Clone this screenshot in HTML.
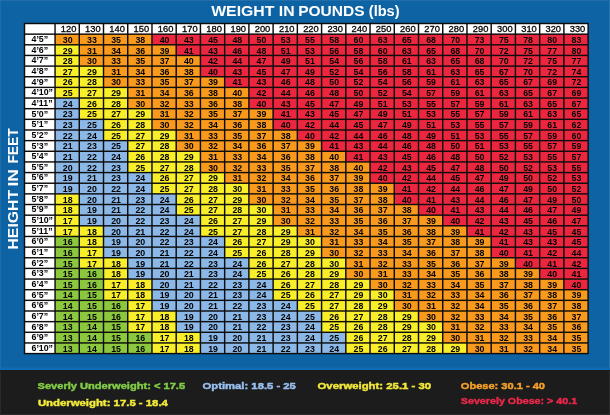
<!DOCTYPE html><html><head><meta charset="utf-8"><style>html,body{margin:0;padding:0;background:#0f64a3;width:610px;height:415px;overflow:hidden}svg{display:block}text{font-family:"Liberation Sans",sans-serif}</style></head><body>
<svg width="610" height="415" viewBox="0 0 610 415">
<defs><filter id="b" filterUnits="userSpaceOnUse" x="-10" y="-10" width="630" height="435"><feGaussianBlur stdDeviation="0.3"/></filter></defs>
<g filter="url(#b)">
<rect x="-10" y="-10" width="630" height="390" fill="#0f64a3"/>
<rect x="0" y="367.5" width="610" height="2.5" fill="#0f6db8"/>
<rect x="-10" y="370" width="630" height="55" fill="#1b1b1b"/>
<rect x="0" y="0" width="610" height="1" fill="#236fab" opacity="0.9"/>
<rect x="0" y="0" width="1" height="368" fill="#236fab" opacity="0.8"/>
<rect x="609" y="0" width="1" height="368" fill="#2a76b0" opacity="0.9"/>
<rect x="0" y="371" width="1" height="44" fill="#2a2a2a"/>
<rect x="609" y="371" width="1" height="44" fill="#2a2a2a"/>
<rect x="0" y="414" width="610" height="1" fill="#2a2a2a"/>
<text x="211.20" y="15.9" font-size="14" font-weight="bold" fill="#fff" textLength="63.20" lengthAdjust="spacingAndGlyphs">WEIGHT</text>
<text x="278.80" y="15.9" font-size="14" font-weight="bold" fill="#fff" textLength="15.80" lengthAdjust="spacingAndGlyphs">IN</text>
<text x="298.20" y="15.9" font-size="14" font-weight="bold" fill="#fff" textLength="66.40" lengthAdjust="spacingAndGlyphs">POUNDS</text>
<text x="368.80" y="15.9" font-size="14" font-weight="bold" fill="#fff" textLength="30.80" lengthAdjust="spacingAndGlyphs">(lbs)</text>
<text transform="translate(17.9,249.60) rotate(-90)" x="0" y="0" font-size="15.2" font-weight="bold" fill="#fff" textLength="59.80" lengthAdjust="spacingAndGlyphs">HEIGHT</text>
<text transform="translate(17.9,186.50) rotate(-90)" x="0" y="0" font-size="15.2" font-weight="bold" fill="#fff" textLength="17.40" lengthAdjust="spacingAndGlyphs">IN</text>
<text transform="translate(17.9,163.60) rotate(-90)" x="0" y="0" font-size="15.2" font-weight="bold" fill="#fff" textLength="35.20" lengthAdjust="spacingAndGlyphs">FEET</text>
<rect x="23.77" y="22.77" width="565.06" height="331.54" fill="#0d0d0d"/>
<rect x="25.23" y="24.23" width="29.10" height="9.20" fill="#ffffff"/>
<rect x="55.77" y="24.23" width="22.78" height="9.20" fill="#ffffff"/>
<rect x="80.00" y="24.23" width="22.78" height="9.20" fill="#ffffff"/>
<rect x="104.23" y="24.23" width="22.78" height="9.20" fill="#ffffff"/>
<rect x="128.47" y="24.23" width="22.78" height="9.20" fill="#ffffff"/>
<rect x="152.69" y="24.23" width="22.78" height="9.20" fill="#ffffff"/>
<rect x="176.92" y="24.23" width="22.78" height="9.20" fill="#ffffff"/>
<rect x="201.16" y="24.23" width="22.78" height="9.20" fill="#ffffff"/>
<rect x="225.39" y="24.23" width="22.78" height="9.20" fill="#ffffff"/>
<rect x="249.61" y="24.23" width="22.78" height="9.20" fill="#ffffff"/>
<rect x="273.85" y="24.23" width="22.78" height="9.20" fill="#ffffff"/>
<rect x="298.08" y="24.23" width="22.78" height="9.20" fill="#ffffff"/>
<rect x="322.31" y="24.23" width="22.78" height="9.20" fill="#ffffff"/>
<rect x="346.54" y="24.23" width="22.78" height="9.20" fill="#ffffff"/>
<rect x="370.77" y="24.23" width="22.78" height="9.20" fill="#ffffff"/>
<rect x="395.00" y="24.23" width="22.78" height="9.20" fill="#ffffff"/>
<rect x="419.23" y="24.23" width="22.78" height="9.20" fill="#ffffff"/>
<rect x="443.46" y="24.23" width="22.78" height="9.20" fill="#ffffff"/>
<rect x="467.69" y="24.23" width="22.78" height="9.20" fill="#ffffff"/>
<rect x="491.92" y="24.23" width="22.78" height="9.20" fill="#ffffff"/>
<rect x="516.14" y="24.23" width="22.78" height="9.20" fill="#ffffff"/>
<rect x="540.38" y="24.23" width="22.78" height="9.20" fill="#ffffff"/>
<rect x="564.61" y="24.23" width="22.78" height="9.20" fill="#ffffff"/>
<rect x="25.23" y="34.88" width="29.10" height="9.20" fill="#ffffff"/>
<rect x="55.77" y="34.88" width="22.78" height="9.20" fill="#f99a1f"/>
<rect x="80.00" y="34.88" width="22.78" height="9.20" fill="#f99a1f"/>
<rect x="104.23" y="34.88" width="22.78" height="9.20" fill="#f99a1f"/>
<rect x="128.47" y="34.88" width="22.78" height="9.20" fill="#f99a1f"/>
<rect x="152.69" y="34.88" width="22.78" height="9.20" fill="#ed283f"/>
<rect x="176.92" y="34.88" width="22.78" height="9.20" fill="#ed283f"/>
<rect x="201.16" y="34.88" width="22.78" height="9.20" fill="#ed283f"/>
<rect x="225.39" y="34.88" width="22.78" height="9.20" fill="#ed283f"/>
<rect x="249.61" y="34.88" width="22.78" height="9.20" fill="#ed283f"/>
<rect x="273.85" y="34.88" width="22.78" height="9.20" fill="#ed283f"/>
<rect x="298.08" y="34.88" width="22.78" height="9.20" fill="#ed283f"/>
<rect x="322.31" y="34.88" width="22.78" height="9.20" fill="#ed283f"/>
<rect x="346.54" y="34.88" width="22.78" height="9.20" fill="#ed283f"/>
<rect x="370.77" y="34.88" width="22.78" height="9.20" fill="#ed283f"/>
<rect x="395.00" y="34.88" width="22.78" height="9.20" fill="#ed283f"/>
<rect x="419.23" y="34.88" width="22.78" height="9.20" fill="#ed283f"/>
<rect x="443.46" y="34.88" width="22.78" height="9.20" fill="#ed283f"/>
<rect x="467.69" y="34.88" width="22.78" height="9.20" fill="#ed283f"/>
<rect x="491.92" y="34.88" width="22.78" height="9.20" fill="#ed283f"/>
<rect x="516.14" y="34.88" width="22.78" height="9.20" fill="#ed283f"/>
<rect x="540.38" y="34.88" width="22.78" height="9.20" fill="#ed283f"/>
<rect x="564.61" y="34.88" width="22.78" height="9.20" fill="#ed283f"/>
<rect x="25.23" y="45.52" width="29.10" height="9.20" fill="#ffffff"/>
<rect x="55.77" y="45.52" width="22.78" height="9.20" fill="#f9ee2a"/>
<rect x="80.00" y="45.52" width="22.78" height="9.20" fill="#f99a1f"/>
<rect x="104.23" y="45.52" width="22.78" height="9.20" fill="#f99a1f"/>
<rect x="128.47" y="45.52" width="22.78" height="9.20" fill="#f99a1f"/>
<rect x="152.69" y="45.52" width="22.78" height="9.20" fill="#f99a1f"/>
<rect x="176.92" y="45.52" width="22.78" height="9.20" fill="#ed283f"/>
<rect x="201.16" y="45.52" width="22.78" height="9.20" fill="#ed283f"/>
<rect x="225.39" y="45.52" width="22.78" height="9.20" fill="#ed283f"/>
<rect x="249.61" y="45.52" width="22.78" height="9.20" fill="#ed283f"/>
<rect x="273.85" y="45.52" width="22.78" height="9.20" fill="#ed283f"/>
<rect x="298.08" y="45.52" width="22.78" height="9.20" fill="#ed283f"/>
<rect x="322.31" y="45.52" width="22.78" height="9.20" fill="#ed283f"/>
<rect x="346.54" y="45.52" width="22.78" height="9.20" fill="#ed283f"/>
<rect x="370.77" y="45.52" width="22.78" height="9.20" fill="#ed283f"/>
<rect x="395.00" y="45.52" width="22.78" height="9.20" fill="#ed283f"/>
<rect x="419.23" y="45.52" width="22.78" height="9.20" fill="#ed283f"/>
<rect x="443.46" y="45.52" width="22.78" height="9.20" fill="#ed283f"/>
<rect x="467.69" y="45.52" width="22.78" height="9.20" fill="#ed283f"/>
<rect x="491.92" y="45.52" width="22.78" height="9.20" fill="#ed283f"/>
<rect x="516.14" y="45.52" width="22.78" height="9.20" fill="#ed283f"/>
<rect x="540.38" y="45.52" width="22.78" height="9.20" fill="#ed283f"/>
<rect x="564.61" y="45.52" width="22.78" height="9.20" fill="#ed283f"/>
<rect x="25.23" y="56.17" width="29.10" height="9.20" fill="#ffffff"/>
<rect x="55.77" y="56.17" width="22.78" height="9.20" fill="#f9ee2a"/>
<rect x="80.00" y="56.17" width="22.78" height="9.20" fill="#f99a1f"/>
<rect x="104.23" y="56.17" width="22.78" height="9.20" fill="#f99a1f"/>
<rect x="128.47" y="56.17" width="22.78" height="9.20" fill="#f99a1f"/>
<rect x="152.69" y="56.17" width="22.78" height="9.20" fill="#f99a1f"/>
<rect x="176.92" y="56.17" width="22.78" height="9.20" fill="#f99a1f"/>
<rect x="201.16" y="56.17" width="22.78" height="9.20" fill="#ed283f"/>
<rect x="225.39" y="56.17" width="22.78" height="9.20" fill="#ed283f"/>
<rect x="249.61" y="56.17" width="22.78" height="9.20" fill="#ed283f"/>
<rect x="273.85" y="56.17" width="22.78" height="9.20" fill="#ed283f"/>
<rect x="298.08" y="56.17" width="22.78" height="9.20" fill="#ed283f"/>
<rect x="322.31" y="56.17" width="22.78" height="9.20" fill="#ed283f"/>
<rect x="346.54" y="56.17" width="22.78" height="9.20" fill="#ed283f"/>
<rect x="370.77" y="56.17" width="22.78" height="9.20" fill="#ed283f"/>
<rect x="395.00" y="56.17" width="22.78" height="9.20" fill="#ed283f"/>
<rect x="419.23" y="56.17" width="22.78" height="9.20" fill="#ed283f"/>
<rect x="443.46" y="56.17" width="22.78" height="9.20" fill="#ed283f"/>
<rect x="467.69" y="56.17" width="22.78" height="9.20" fill="#ed283f"/>
<rect x="491.92" y="56.17" width="22.78" height="9.20" fill="#ed283f"/>
<rect x="516.14" y="56.17" width="22.78" height="9.20" fill="#ed283f"/>
<rect x="540.38" y="56.17" width="22.78" height="9.20" fill="#ed283f"/>
<rect x="564.61" y="56.17" width="22.78" height="9.20" fill="#ed283f"/>
<rect x="25.23" y="66.82" width="29.10" height="9.20" fill="#ffffff"/>
<rect x="55.77" y="66.82" width="22.78" height="9.20" fill="#f9ee2a"/>
<rect x="80.00" y="66.82" width="22.78" height="9.20" fill="#f9ee2a"/>
<rect x="104.23" y="66.82" width="22.78" height="9.20" fill="#f99a1f"/>
<rect x="128.47" y="66.82" width="22.78" height="9.20" fill="#f99a1f"/>
<rect x="152.69" y="66.82" width="22.78" height="9.20" fill="#f99a1f"/>
<rect x="176.92" y="66.82" width="22.78" height="9.20" fill="#f99a1f"/>
<rect x="201.16" y="66.82" width="22.78" height="9.20" fill="#ed283f"/>
<rect x="225.39" y="66.82" width="22.78" height="9.20" fill="#ed283f"/>
<rect x="249.61" y="66.82" width="22.78" height="9.20" fill="#ed283f"/>
<rect x="273.85" y="66.82" width="22.78" height="9.20" fill="#ed283f"/>
<rect x="298.08" y="66.82" width="22.78" height="9.20" fill="#ed283f"/>
<rect x="322.31" y="66.82" width="22.78" height="9.20" fill="#ed283f"/>
<rect x="346.54" y="66.82" width="22.78" height="9.20" fill="#ed283f"/>
<rect x="370.77" y="66.82" width="22.78" height="9.20" fill="#ed283f"/>
<rect x="395.00" y="66.82" width="22.78" height="9.20" fill="#ed283f"/>
<rect x="419.23" y="66.82" width="22.78" height="9.20" fill="#ed283f"/>
<rect x="443.46" y="66.82" width="22.78" height="9.20" fill="#ed283f"/>
<rect x="467.69" y="66.82" width="22.78" height="9.20" fill="#ed283f"/>
<rect x="491.92" y="66.82" width="22.78" height="9.20" fill="#ed283f"/>
<rect x="516.14" y="66.82" width="22.78" height="9.20" fill="#ed283f"/>
<rect x="540.38" y="66.82" width="22.78" height="9.20" fill="#ed283f"/>
<rect x="564.61" y="66.82" width="22.78" height="9.20" fill="#ed283f"/>
<rect x="25.23" y="77.47" width="29.10" height="9.20" fill="#ffffff"/>
<rect x="55.77" y="77.47" width="22.78" height="9.20" fill="#f9ee2a"/>
<rect x="80.00" y="77.47" width="22.78" height="9.20" fill="#f9ee2a"/>
<rect x="104.23" y="77.47" width="22.78" height="9.20" fill="#f99a1f"/>
<rect x="128.47" y="77.47" width="22.78" height="9.20" fill="#f99a1f"/>
<rect x="152.69" y="77.47" width="22.78" height="9.20" fill="#f99a1f"/>
<rect x="176.92" y="77.47" width="22.78" height="9.20" fill="#f99a1f"/>
<rect x="201.16" y="77.47" width="22.78" height="9.20" fill="#f99a1f"/>
<rect x="225.39" y="77.47" width="22.78" height="9.20" fill="#ed283f"/>
<rect x="249.61" y="77.47" width="22.78" height="9.20" fill="#ed283f"/>
<rect x="273.85" y="77.47" width="22.78" height="9.20" fill="#ed283f"/>
<rect x="298.08" y="77.47" width="22.78" height="9.20" fill="#ed283f"/>
<rect x="322.31" y="77.47" width="22.78" height="9.20" fill="#ed283f"/>
<rect x="346.54" y="77.47" width="22.78" height="9.20" fill="#ed283f"/>
<rect x="370.77" y="77.47" width="22.78" height="9.20" fill="#ed283f"/>
<rect x="395.00" y="77.47" width="22.78" height="9.20" fill="#ed283f"/>
<rect x="419.23" y="77.47" width="22.78" height="9.20" fill="#ed283f"/>
<rect x="443.46" y="77.47" width="22.78" height="9.20" fill="#ed283f"/>
<rect x="467.69" y="77.47" width="22.78" height="9.20" fill="#ed283f"/>
<rect x="491.92" y="77.47" width="22.78" height="9.20" fill="#ed283f"/>
<rect x="516.14" y="77.47" width="22.78" height="9.20" fill="#ed283f"/>
<rect x="540.38" y="77.47" width="22.78" height="9.20" fill="#ed283f"/>
<rect x="564.61" y="77.47" width="22.78" height="9.20" fill="#ed283f"/>
<rect x="25.23" y="88.11" width="29.10" height="9.20" fill="#ffffff"/>
<rect x="55.77" y="88.11" width="22.78" height="9.20" fill="#f9ee2a"/>
<rect x="80.00" y="88.11" width="22.78" height="9.20" fill="#f9ee2a"/>
<rect x="104.23" y="88.11" width="22.78" height="9.20" fill="#f9ee2a"/>
<rect x="128.47" y="88.11" width="22.78" height="9.20" fill="#f99a1f"/>
<rect x="152.69" y="88.11" width="22.78" height="9.20" fill="#f99a1f"/>
<rect x="176.92" y="88.11" width="22.78" height="9.20" fill="#f99a1f"/>
<rect x="201.16" y="88.11" width="22.78" height="9.20" fill="#f99a1f"/>
<rect x="225.39" y="88.11" width="22.78" height="9.20" fill="#f99a1f"/>
<rect x="249.61" y="88.11" width="22.78" height="9.20" fill="#ed283f"/>
<rect x="273.85" y="88.11" width="22.78" height="9.20" fill="#ed283f"/>
<rect x="298.08" y="88.11" width="22.78" height="9.20" fill="#ed283f"/>
<rect x="322.31" y="88.11" width="22.78" height="9.20" fill="#ed283f"/>
<rect x="346.54" y="88.11" width="22.78" height="9.20" fill="#ed283f"/>
<rect x="370.77" y="88.11" width="22.78" height="9.20" fill="#ed283f"/>
<rect x="395.00" y="88.11" width="22.78" height="9.20" fill="#ed283f"/>
<rect x="419.23" y="88.11" width="22.78" height="9.20" fill="#ed283f"/>
<rect x="443.46" y="88.11" width="22.78" height="9.20" fill="#ed283f"/>
<rect x="467.69" y="88.11" width="22.78" height="9.20" fill="#ed283f"/>
<rect x="491.92" y="88.11" width="22.78" height="9.20" fill="#ed283f"/>
<rect x="516.14" y="88.11" width="22.78" height="9.20" fill="#ed283f"/>
<rect x="540.38" y="88.11" width="22.78" height="9.20" fill="#ed283f"/>
<rect x="564.61" y="88.11" width="22.78" height="9.20" fill="#ed283f"/>
<rect x="25.23" y="98.76" width="29.10" height="9.20" fill="#ffffff"/>
<rect x="55.77" y="98.76" width="22.78" height="9.20" fill="#8cb8e8"/>
<rect x="80.00" y="98.76" width="22.78" height="9.20" fill="#f9ee2a"/>
<rect x="104.23" y="98.76" width="22.78" height="9.20" fill="#f9ee2a"/>
<rect x="128.47" y="98.76" width="22.78" height="9.20" fill="#f99a1f"/>
<rect x="152.69" y="98.76" width="22.78" height="9.20" fill="#f99a1f"/>
<rect x="176.92" y="98.76" width="22.78" height="9.20" fill="#f99a1f"/>
<rect x="201.16" y="98.76" width="22.78" height="9.20" fill="#f99a1f"/>
<rect x="225.39" y="98.76" width="22.78" height="9.20" fill="#f99a1f"/>
<rect x="249.61" y="98.76" width="22.78" height="9.20" fill="#ed283f"/>
<rect x="273.85" y="98.76" width="22.78" height="9.20" fill="#ed283f"/>
<rect x="298.08" y="98.76" width="22.78" height="9.20" fill="#ed283f"/>
<rect x="322.31" y="98.76" width="22.78" height="9.20" fill="#ed283f"/>
<rect x="346.54" y="98.76" width="22.78" height="9.20" fill="#ed283f"/>
<rect x="370.77" y="98.76" width="22.78" height="9.20" fill="#ed283f"/>
<rect x="395.00" y="98.76" width="22.78" height="9.20" fill="#ed283f"/>
<rect x="419.23" y="98.76" width="22.78" height="9.20" fill="#ed283f"/>
<rect x="443.46" y="98.76" width="22.78" height="9.20" fill="#ed283f"/>
<rect x="467.69" y="98.76" width="22.78" height="9.20" fill="#ed283f"/>
<rect x="491.92" y="98.76" width="22.78" height="9.20" fill="#ed283f"/>
<rect x="516.14" y="98.76" width="22.78" height="9.20" fill="#ed283f"/>
<rect x="540.38" y="98.76" width="22.78" height="9.20" fill="#ed283f"/>
<rect x="564.61" y="98.76" width="22.78" height="9.20" fill="#ed283f"/>
<rect x="25.23" y="109.41" width="29.10" height="9.20" fill="#ffffff"/>
<rect x="55.77" y="109.41" width="22.78" height="9.20" fill="#8cb8e8"/>
<rect x="80.00" y="109.41" width="22.78" height="9.20" fill="#f9ee2a"/>
<rect x="104.23" y="109.41" width="22.78" height="9.20" fill="#f9ee2a"/>
<rect x="128.47" y="109.41" width="22.78" height="9.20" fill="#f9ee2a"/>
<rect x="152.69" y="109.41" width="22.78" height="9.20" fill="#f99a1f"/>
<rect x="176.92" y="109.41" width="22.78" height="9.20" fill="#f99a1f"/>
<rect x="201.16" y="109.41" width="22.78" height="9.20" fill="#f99a1f"/>
<rect x="225.39" y="109.41" width="22.78" height="9.20" fill="#f99a1f"/>
<rect x="249.61" y="109.41" width="22.78" height="9.20" fill="#f99a1f"/>
<rect x="273.85" y="109.41" width="22.78" height="9.20" fill="#ed283f"/>
<rect x="298.08" y="109.41" width="22.78" height="9.20" fill="#ed283f"/>
<rect x="322.31" y="109.41" width="22.78" height="9.20" fill="#ed283f"/>
<rect x="346.54" y="109.41" width="22.78" height="9.20" fill="#ed283f"/>
<rect x="370.77" y="109.41" width="22.78" height="9.20" fill="#ed283f"/>
<rect x="395.00" y="109.41" width="22.78" height="9.20" fill="#ed283f"/>
<rect x="419.23" y="109.41" width="22.78" height="9.20" fill="#ed283f"/>
<rect x="443.46" y="109.41" width="22.78" height="9.20" fill="#ed283f"/>
<rect x="467.69" y="109.41" width="22.78" height="9.20" fill="#ed283f"/>
<rect x="491.92" y="109.41" width="22.78" height="9.20" fill="#ed283f"/>
<rect x="516.14" y="109.41" width="22.78" height="9.20" fill="#ed283f"/>
<rect x="540.38" y="109.41" width="22.78" height="9.20" fill="#ed283f"/>
<rect x="564.61" y="109.41" width="22.78" height="9.20" fill="#ed283f"/>
<rect x="25.23" y="120.06" width="29.10" height="9.20" fill="#ffffff"/>
<rect x="55.77" y="120.06" width="22.78" height="9.20" fill="#8cb8e8"/>
<rect x="80.00" y="120.06" width="22.78" height="9.20" fill="#8cb8e8"/>
<rect x="104.23" y="120.06" width="22.78" height="9.20" fill="#f9ee2a"/>
<rect x="128.47" y="120.06" width="22.78" height="9.20" fill="#f9ee2a"/>
<rect x="152.69" y="120.06" width="22.78" height="9.20" fill="#f99a1f"/>
<rect x="176.92" y="120.06" width="22.78" height="9.20" fill="#f99a1f"/>
<rect x="201.16" y="120.06" width="22.78" height="9.20" fill="#f99a1f"/>
<rect x="225.39" y="120.06" width="22.78" height="9.20" fill="#f99a1f"/>
<rect x="249.61" y="120.06" width="22.78" height="9.20" fill="#f99a1f"/>
<rect x="273.85" y="120.06" width="22.78" height="9.20" fill="#ed283f"/>
<rect x="298.08" y="120.06" width="22.78" height="9.20" fill="#ed283f"/>
<rect x="322.31" y="120.06" width="22.78" height="9.20" fill="#ed283f"/>
<rect x="346.54" y="120.06" width="22.78" height="9.20" fill="#ed283f"/>
<rect x="370.77" y="120.06" width="22.78" height="9.20" fill="#ed283f"/>
<rect x="395.00" y="120.06" width="22.78" height="9.20" fill="#ed283f"/>
<rect x="419.23" y="120.06" width="22.78" height="9.20" fill="#ed283f"/>
<rect x="443.46" y="120.06" width="22.78" height="9.20" fill="#ed283f"/>
<rect x="467.69" y="120.06" width="22.78" height="9.20" fill="#ed283f"/>
<rect x="491.92" y="120.06" width="22.78" height="9.20" fill="#ed283f"/>
<rect x="516.14" y="120.06" width="22.78" height="9.20" fill="#ed283f"/>
<rect x="540.38" y="120.06" width="22.78" height="9.20" fill="#ed283f"/>
<rect x="564.61" y="120.06" width="22.78" height="9.20" fill="#ed283f"/>
<rect x="25.23" y="130.71" width="29.10" height="9.20" fill="#ffffff"/>
<rect x="55.77" y="130.71" width="22.78" height="9.20" fill="#8cb8e8"/>
<rect x="80.00" y="130.71" width="22.78" height="9.20" fill="#8cb8e8"/>
<rect x="104.23" y="130.71" width="22.78" height="9.20" fill="#f9ee2a"/>
<rect x="128.47" y="130.71" width="22.78" height="9.20" fill="#f9ee2a"/>
<rect x="152.69" y="130.71" width="22.78" height="9.20" fill="#f9ee2a"/>
<rect x="176.92" y="130.71" width="22.78" height="9.20" fill="#f99a1f"/>
<rect x="201.16" y="130.71" width="22.78" height="9.20" fill="#f99a1f"/>
<rect x="225.39" y="130.71" width="22.78" height="9.20" fill="#f99a1f"/>
<rect x="249.61" y="130.71" width="22.78" height="9.20" fill="#f99a1f"/>
<rect x="273.85" y="130.71" width="22.78" height="9.20" fill="#f99a1f"/>
<rect x="298.08" y="130.71" width="22.78" height="9.20" fill="#ed283f"/>
<rect x="322.31" y="130.71" width="22.78" height="9.20" fill="#ed283f"/>
<rect x="346.54" y="130.71" width="22.78" height="9.20" fill="#ed283f"/>
<rect x="370.77" y="130.71" width="22.78" height="9.20" fill="#ed283f"/>
<rect x="395.00" y="130.71" width="22.78" height="9.20" fill="#ed283f"/>
<rect x="419.23" y="130.71" width="22.78" height="9.20" fill="#ed283f"/>
<rect x="443.46" y="130.71" width="22.78" height="9.20" fill="#ed283f"/>
<rect x="467.69" y="130.71" width="22.78" height="9.20" fill="#ed283f"/>
<rect x="491.92" y="130.71" width="22.78" height="9.20" fill="#ed283f"/>
<rect x="516.14" y="130.71" width="22.78" height="9.20" fill="#ed283f"/>
<rect x="540.38" y="130.71" width="22.78" height="9.20" fill="#ed283f"/>
<rect x="564.61" y="130.71" width="22.78" height="9.20" fill="#ed283f"/>
<rect x="25.23" y="141.35" width="29.10" height="9.20" fill="#ffffff"/>
<rect x="55.77" y="141.35" width="22.78" height="9.20" fill="#8cb8e8"/>
<rect x="80.00" y="141.35" width="22.78" height="9.20" fill="#8cb8e8"/>
<rect x="104.23" y="141.35" width="22.78" height="9.20" fill="#8cb8e8"/>
<rect x="128.47" y="141.35" width="22.78" height="9.20" fill="#f9ee2a"/>
<rect x="152.69" y="141.35" width="22.78" height="9.20" fill="#f9ee2a"/>
<rect x="176.92" y="141.35" width="22.78" height="9.20" fill="#f99a1f"/>
<rect x="201.16" y="141.35" width="22.78" height="9.20" fill="#f99a1f"/>
<rect x="225.39" y="141.35" width="22.78" height="9.20" fill="#f99a1f"/>
<rect x="249.61" y="141.35" width="22.78" height="9.20" fill="#f99a1f"/>
<rect x="273.85" y="141.35" width="22.78" height="9.20" fill="#f99a1f"/>
<rect x="298.08" y="141.35" width="22.78" height="9.20" fill="#f99a1f"/>
<rect x="322.31" y="141.35" width="22.78" height="9.20" fill="#ed283f"/>
<rect x="346.54" y="141.35" width="22.78" height="9.20" fill="#ed283f"/>
<rect x="370.77" y="141.35" width="22.78" height="9.20" fill="#ed283f"/>
<rect x="395.00" y="141.35" width="22.78" height="9.20" fill="#ed283f"/>
<rect x="419.23" y="141.35" width="22.78" height="9.20" fill="#ed283f"/>
<rect x="443.46" y="141.35" width="22.78" height="9.20" fill="#ed283f"/>
<rect x="467.69" y="141.35" width="22.78" height="9.20" fill="#ed283f"/>
<rect x="491.92" y="141.35" width="22.78" height="9.20" fill="#ed283f"/>
<rect x="516.14" y="141.35" width="22.78" height="9.20" fill="#ed283f"/>
<rect x="540.38" y="141.35" width="22.78" height="9.20" fill="#ed283f"/>
<rect x="564.61" y="141.35" width="22.78" height="9.20" fill="#ed283f"/>
<rect x="25.23" y="152.00" width="29.10" height="9.20" fill="#ffffff"/>
<rect x="55.77" y="152.00" width="22.78" height="9.20" fill="#8cb8e8"/>
<rect x="80.00" y="152.00" width="22.78" height="9.20" fill="#8cb8e8"/>
<rect x="104.23" y="152.00" width="22.78" height="9.20" fill="#8cb8e8"/>
<rect x="128.47" y="152.00" width="22.78" height="9.20" fill="#f9ee2a"/>
<rect x="152.69" y="152.00" width="22.78" height="9.20" fill="#f9ee2a"/>
<rect x="176.92" y="152.00" width="22.78" height="9.20" fill="#f9ee2a"/>
<rect x="201.16" y="152.00" width="22.78" height="9.20" fill="#f99a1f"/>
<rect x="225.39" y="152.00" width="22.78" height="9.20" fill="#f99a1f"/>
<rect x="249.61" y="152.00" width="22.78" height="9.20" fill="#f99a1f"/>
<rect x="273.85" y="152.00" width="22.78" height="9.20" fill="#f99a1f"/>
<rect x="298.08" y="152.00" width="22.78" height="9.20" fill="#f99a1f"/>
<rect x="322.31" y="152.00" width="22.78" height="9.20" fill="#f99a1f"/>
<rect x="346.54" y="152.00" width="22.78" height="9.20" fill="#ed283f"/>
<rect x="370.77" y="152.00" width="22.78" height="9.20" fill="#ed283f"/>
<rect x="395.00" y="152.00" width="22.78" height="9.20" fill="#ed283f"/>
<rect x="419.23" y="152.00" width="22.78" height="9.20" fill="#ed283f"/>
<rect x="443.46" y="152.00" width="22.78" height="9.20" fill="#ed283f"/>
<rect x="467.69" y="152.00" width="22.78" height="9.20" fill="#ed283f"/>
<rect x="491.92" y="152.00" width="22.78" height="9.20" fill="#ed283f"/>
<rect x="516.14" y="152.00" width="22.78" height="9.20" fill="#ed283f"/>
<rect x="540.38" y="152.00" width="22.78" height="9.20" fill="#ed283f"/>
<rect x="564.61" y="152.00" width="22.78" height="9.20" fill="#ed283f"/>
<rect x="25.23" y="162.65" width="29.10" height="9.20" fill="#ffffff"/>
<rect x="55.77" y="162.65" width="22.78" height="9.20" fill="#8cb8e8"/>
<rect x="80.00" y="162.65" width="22.78" height="9.20" fill="#8cb8e8"/>
<rect x="104.23" y="162.65" width="22.78" height="9.20" fill="#8cb8e8"/>
<rect x="128.47" y="162.65" width="22.78" height="9.20" fill="#f9ee2a"/>
<rect x="152.69" y="162.65" width="22.78" height="9.20" fill="#f9ee2a"/>
<rect x="176.92" y="162.65" width="22.78" height="9.20" fill="#f9ee2a"/>
<rect x="201.16" y="162.65" width="22.78" height="9.20" fill="#f99a1f"/>
<rect x="225.39" y="162.65" width="22.78" height="9.20" fill="#f99a1f"/>
<rect x="249.61" y="162.65" width="22.78" height="9.20" fill="#f99a1f"/>
<rect x="273.85" y="162.65" width="22.78" height="9.20" fill="#f99a1f"/>
<rect x="298.08" y="162.65" width="22.78" height="9.20" fill="#f99a1f"/>
<rect x="322.31" y="162.65" width="22.78" height="9.20" fill="#f99a1f"/>
<rect x="346.54" y="162.65" width="22.78" height="9.20" fill="#f99a1f"/>
<rect x="370.77" y="162.65" width="22.78" height="9.20" fill="#ed283f"/>
<rect x="395.00" y="162.65" width="22.78" height="9.20" fill="#ed283f"/>
<rect x="419.23" y="162.65" width="22.78" height="9.20" fill="#ed283f"/>
<rect x="443.46" y="162.65" width="22.78" height="9.20" fill="#ed283f"/>
<rect x="467.69" y="162.65" width="22.78" height="9.20" fill="#ed283f"/>
<rect x="491.92" y="162.65" width="22.78" height="9.20" fill="#ed283f"/>
<rect x="516.14" y="162.65" width="22.78" height="9.20" fill="#ed283f"/>
<rect x="540.38" y="162.65" width="22.78" height="9.20" fill="#ed283f"/>
<rect x="564.61" y="162.65" width="22.78" height="9.20" fill="#ed283f"/>
<rect x="25.23" y="173.30" width="29.10" height="9.20" fill="#ffffff"/>
<rect x="55.77" y="173.30" width="22.78" height="9.20" fill="#8cb8e8"/>
<rect x="80.00" y="173.30" width="22.78" height="9.20" fill="#8cb8e8"/>
<rect x="104.23" y="173.30" width="22.78" height="9.20" fill="#8cb8e8"/>
<rect x="128.47" y="173.30" width="22.78" height="9.20" fill="#8cb8e8"/>
<rect x="152.69" y="173.30" width="22.78" height="9.20" fill="#f9ee2a"/>
<rect x="176.92" y="173.30" width="22.78" height="9.20" fill="#f9ee2a"/>
<rect x="201.16" y="173.30" width="22.78" height="9.20" fill="#f9ee2a"/>
<rect x="225.39" y="173.30" width="22.78" height="9.20" fill="#f99a1f"/>
<rect x="249.61" y="173.30" width="22.78" height="9.20" fill="#f99a1f"/>
<rect x="273.85" y="173.30" width="22.78" height="9.20" fill="#f99a1f"/>
<rect x="298.08" y="173.30" width="22.78" height="9.20" fill="#f99a1f"/>
<rect x="322.31" y="173.30" width="22.78" height="9.20" fill="#f99a1f"/>
<rect x="346.54" y="173.30" width="22.78" height="9.20" fill="#f99a1f"/>
<rect x="370.77" y="173.30" width="22.78" height="9.20" fill="#ed283f"/>
<rect x="395.00" y="173.30" width="22.78" height="9.20" fill="#ed283f"/>
<rect x="419.23" y="173.30" width="22.78" height="9.20" fill="#ed283f"/>
<rect x="443.46" y="173.30" width="22.78" height="9.20" fill="#ed283f"/>
<rect x="467.69" y="173.30" width="22.78" height="9.20" fill="#ed283f"/>
<rect x="491.92" y="173.30" width="22.78" height="9.20" fill="#ed283f"/>
<rect x="516.14" y="173.30" width="22.78" height="9.20" fill="#ed283f"/>
<rect x="540.38" y="173.30" width="22.78" height="9.20" fill="#ed283f"/>
<rect x="564.61" y="173.30" width="22.78" height="9.20" fill="#ed283f"/>
<rect x="25.23" y="183.95" width="29.10" height="9.20" fill="#ffffff"/>
<rect x="55.77" y="183.95" width="22.78" height="9.20" fill="#8cb8e8"/>
<rect x="80.00" y="183.95" width="22.78" height="9.20" fill="#8cb8e8"/>
<rect x="104.23" y="183.95" width="22.78" height="9.20" fill="#8cb8e8"/>
<rect x="128.47" y="183.95" width="22.78" height="9.20" fill="#8cb8e8"/>
<rect x="152.69" y="183.95" width="22.78" height="9.20" fill="#f9ee2a"/>
<rect x="176.92" y="183.95" width="22.78" height="9.20" fill="#f9ee2a"/>
<rect x="201.16" y="183.95" width="22.78" height="9.20" fill="#f9ee2a"/>
<rect x="225.39" y="183.95" width="22.78" height="9.20" fill="#f9ee2a"/>
<rect x="249.61" y="183.95" width="22.78" height="9.20" fill="#f99a1f"/>
<rect x="273.85" y="183.95" width="22.78" height="9.20" fill="#f99a1f"/>
<rect x="298.08" y="183.95" width="22.78" height="9.20" fill="#f99a1f"/>
<rect x="322.31" y="183.95" width="22.78" height="9.20" fill="#f99a1f"/>
<rect x="346.54" y="183.95" width="22.78" height="9.20" fill="#f99a1f"/>
<rect x="370.77" y="183.95" width="22.78" height="9.20" fill="#f99a1f"/>
<rect x="395.00" y="183.95" width="22.78" height="9.20" fill="#ed283f"/>
<rect x="419.23" y="183.95" width="22.78" height="9.20" fill="#ed283f"/>
<rect x="443.46" y="183.95" width="22.78" height="9.20" fill="#ed283f"/>
<rect x="467.69" y="183.95" width="22.78" height="9.20" fill="#ed283f"/>
<rect x="491.92" y="183.95" width="22.78" height="9.20" fill="#ed283f"/>
<rect x="516.14" y="183.95" width="22.78" height="9.20" fill="#ed283f"/>
<rect x="540.38" y="183.95" width="22.78" height="9.20" fill="#ed283f"/>
<rect x="564.61" y="183.95" width="22.78" height="9.20" fill="#ed283f"/>
<rect x="25.23" y="194.59" width="29.10" height="9.20" fill="#ffffff"/>
<rect x="55.77" y="194.59" width="22.78" height="9.20" fill="#f9ee2a"/>
<rect x="80.00" y="194.59" width="22.78" height="9.20" fill="#8cb8e8"/>
<rect x="104.23" y="194.59" width="22.78" height="9.20" fill="#8cb8e8"/>
<rect x="128.47" y="194.59" width="22.78" height="9.20" fill="#8cb8e8"/>
<rect x="152.69" y="194.59" width="22.78" height="9.20" fill="#8cb8e8"/>
<rect x="176.92" y="194.59" width="22.78" height="9.20" fill="#f9ee2a"/>
<rect x="201.16" y="194.59" width="22.78" height="9.20" fill="#f9ee2a"/>
<rect x="225.39" y="194.59" width="22.78" height="9.20" fill="#f9ee2a"/>
<rect x="249.61" y="194.59" width="22.78" height="9.20" fill="#f99a1f"/>
<rect x="273.85" y="194.59" width="22.78" height="9.20" fill="#f99a1f"/>
<rect x="298.08" y="194.59" width="22.78" height="9.20" fill="#f99a1f"/>
<rect x="322.31" y="194.59" width="22.78" height="9.20" fill="#f99a1f"/>
<rect x="346.54" y="194.59" width="22.78" height="9.20" fill="#f99a1f"/>
<rect x="370.77" y="194.59" width="22.78" height="9.20" fill="#f99a1f"/>
<rect x="395.00" y="194.59" width="22.78" height="9.20" fill="#ed283f"/>
<rect x="419.23" y="194.59" width="22.78" height="9.20" fill="#ed283f"/>
<rect x="443.46" y="194.59" width="22.78" height="9.20" fill="#ed283f"/>
<rect x="467.69" y="194.59" width="22.78" height="9.20" fill="#ed283f"/>
<rect x="491.92" y="194.59" width="22.78" height="9.20" fill="#ed283f"/>
<rect x="516.14" y="194.59" width="22.78" height="9.20" fill="#ed283f"/>
<rect x="540.38" y="194.59" width="22.78" height="9.20" fill="#ed283f"/>
<rect x="564.61" y="194.59" width="22.78" height="9.20" fill="#ed283f"/>
<rect x="25.23" y="205.24" width="29.10" height="9.20" fill="#ffffff"/>
<rect x="55.77" y="205.24" width="22.78" height="9.20" fill="#f9ee2a"/>
<rect x="80.00" y="205.24" width="22.78" height="9.20" fill="#8cb8e8"/>
<rect x="104.23" y="205.24" width="22.78" height="9.20" fill="#8cb8e8"/>
<rect x="128.47" y="205.24" width="22.78" height="9.20" fill="#8cb8e8"/>
<rect x="152.69" y="205.24" width="22.78" height="9.20" fill="#8cb8e8"/>
<rect x="176.92" y="205.24" width="22.78" height="9.20" fill="#f9ee2a"/>
<rect x="201.16" y="205.24" width="22.78" height="9.20" fill="#f9ee2a"/>
<rect x="225.39" y="205.24" width="22.78" height="9.20" fill="#f9ee2a"/>
<rect x="249.61" y="205.24" width="22.78" height="9.20" fill="#f9ee2a"/>
<rect x="273.85" y="205.24" width="22.78" height="9.20" fill="#f99a1f"/>
<rect x="298.08" y="205.24" width="22.78" height="9.20" fill="#f99a1f"/>
<rect x="322.31" y="205.24" width="22.78" height="9.20" fill="#f99a1f"/>
<rect x="346.54" y="205.24" width="22.78" height="9.20" fill="#f99a1f"/>
<rect x="370.77" y="205.24" width="22.78" height="9.20" fill="#f99a1f"/>
<rect x="395.00" y="205.24" width="22.78" height="9.20" fill="#f99a1f"/>
<rect x="419.23" y="205.24" width="22.78" height="9.20" fill="#ed283f"/>
<rect x="443.46" y="205.24" width="22.78" height="9.20" fill="#ed283f"/>
<rect x="467.69" y="205.24" width="22.78" height="9.20" fill="#ed283f"/>
<rect x="491.92" y="205.24" width="22.78" height="9.20" fill="#ed283f"/>
<rect x="516.14" y="205.24" width="22.78" height="9.20" fill="#ed283f"/>
<rect x="540.38" y="205.24" width="22.78" height="9.20" fill="#ed283f"/>
<rect x="564.61" y="205.24" width="22.78" height="9.20" fill="#ed283f"/>
<rect x="25.23" y="215.89" width="29.10" height="9.20" fill="#ffffff"/>
<rect x="55.77" y="215.89" width="22.78" height="9.20" fill="#f9ee2a"/>
<rect x="80.00" y="215.89" width="22.78" height="9.20" fill="#8cb8e8"/>
<rect x="104.23" y="215.89" width="22.78" height="9.20" fill="#8cb8e8"/>
<rect x="128.47" y="215.89" width="22.78" height="9.20" fill="#8cb8e8"/>
<rect x="152.69" y="215.89" width="22.78" height="9.20" fill="#8cb8e8"/>
<rect x="176.92" y="215.89" width="22.78" height="9.20" fill="#8cb8e8"/>
<rect x="201.16" y="215.89" width="22.78" height="9.20" fill="#f9ee2a"/>
<rect x="225.39" y="215.89" width="22.78" height="9.20" fill="#f9ee2a"/>
<rect x="249.61" y="215.89" width="22.78" height="9.20" fill="#f9ee2a"/>
<rect x="273.85" y="215.89" width="22.78" height="9.20" fill="#f99a1f"/>
<rect x="298.08" y="215.89" width="22.78" height="9.20" fill="#f99a1f"/>
<rect x="322.31" y="215.89" width="22.78" height="9.20" fill="#f99a1f"/>
<rect x="346.54" y="215.89" width="22.78" height="9.20" fill="#f99a1f"/>
<rect x="370.77" y="215.89" width="22.78" height="9.20" fill="#f99a1f"/>
<rect x="395.00" y="215.89" width="22.78" height="9.20" fill="#f99a1f"/>
<rect x="419.23" y="215.89" width="22.78" height="9.20" fill="#f99a1f"/>
<rect x="443.46" y="215.89" width="22.78" height="9.20" fill="#ed283f"/>
<rect x="467.69" y="215.89" width="22.78" height="9.20" fill="#ed283f"/>
<rect x="491.92" y="215.89" width="22.78" height="9.20" fill="#ed283f"/>
<rect x="516.14" y="215.89" width="22.78" height="9.20" fill="#ed283f"/>
<rect x="540.38" y="215.89" width="22.78" height="9.20" fill="#ed283f"/>
<rect x="564.61" y="215.89" width="22.78" height="9.20" fill="#ed283f"/>
<rect x="25.23" y="226.54" width="29.10" height="9.20" fill="#ffffff"/>
<rect x="55.77" y="226.54" width="22.78" height="9.20" fill="#f9ee2a"/>
<rect x="80.00" y="226.54" width="22.78" height="9.20" fill="#f9ee2a"/>
<rect x="104.23" y="226.54" width="22.78" height="9.20" fill="#8cb8e8"/>
<rect x="128.47" y="226.54" width="22.78" height="9.20" fill="#8cb8e8"/>
<rect x="152.69" y="226.54" width="22.78" height="9.20" fill="#8cb8e8"/>
<rect x="176.92" y="226.54" width="22.78" height="9.20" fill="#8cb8e8"/>
<rect x="201.16" y="226.54" width="22.78" height="9.20" fill="#f9ee2a"/>
<rect x="225.39" y="226.54" width="22.78" height="9.20" fill="#f9ee2a"/>
<rect x="249.61" y="226.54" width="22.78" height="9.20" fill="#f9ee2a"/>
<rect x="273.85" y="226.54" width="22.78" height="9.20" fill="#f9ee2a"/>
<rect x="298.08" y="226.54" width="22.78" height="9.20" fill="#f99a1f"/>
<rect x="322.31" y="226.54" width="22.78" height="9.20" fill="#f99a1f"/>
<rect x="346.54" y="226.54" width="22.78" height="9.20" fill="#f99a1f"/>
<rect x="370.77" y="226.54" width="22.78" height="9.20" fill="#f99a1f"/>
<rect x="395.00" y="226.54" width="22.78" height="9.20" fill="#f99a1f"/>
<rect x="419.23" y="226.54" width="22.78" height="9.20" fill="#f99a1f"/>
<rect x="443.46" y="226.54" width="22.78" height="9.20" fill="#f99a1f"/>
<rect x="467.69" y="226.54" width="22.78" height="9.20" fill="#ed283f"/>
<rect x="491.92" y="226.54" width="22.78" height="9.20" fill="#ed283f"/>
<rect x="516.14" y="226.54" width="22.78" height="9.20" fill="#ed283f"/>
<rect x="540.38" y="226.54" width="22.78" height="9.20" fill="#ed283f"/>
<rect x="564.61" y="226.54" width="22.78" height="9.20" fill="#ed283f"/>
<rect x="25.23" y="237.19" width="29.10" height="9.20" fill="#ffffff"/>
<rect x="55.77" y="237.19" width="22.78" height="9.20" fill="#8cc83c"/>
<rect x="80.00" y="237.19" width="22.78" height="9.20" fill="#f9ee2a"/>
<rect x="104.23" y="237.19" width="22.78" height="9.20" fill="#8cb8e8"/>
<rect x="128.47" y="237.19" width="22.78" height="9.20" fill="#8cb8e8"/>
<rect x="152.69" y="237.19" width="22.78" height="9.20" fill="#8cb8e8"/>
<rect x="176.92" y="237.19" width="22.78" height="9.20" fill="#8cb8e8"/>
<rect x="201.16" y="237.19" width="22.78" height="9.20" fill="#8cb8e8"/>
<rect x="225.39" y="237.19" width="22.78" height="9.20" fill="#f9ee2a"/>
<rect x="249.61" y="237.19" width="22.78" height="9.20" fill="#f9ee2a"/>
<rect x="273.85" y="237.19" width="22.78" height="9.20" fill="#f9ee2a"/>
<rect x="298.08" y="237.19" width="22.78" height="9.20" fill="#f9ee2a"/>
<rect x="322.31" y="237.19" width="22.78" height="9.20" fill="#f99a1f"/>
<rect x="346.54" y="237.19" width="22.78" height="9.20" fill="#f99a1f"/>
<rect x="370.77" y="237.19" width="22.78" height="9.20" fill="#f99a1f"/>
<rect x="395.00" y="237.19" width="22.78" height="9.20" fill="#f99a1f"/>
<rect x="419.23" y="237.19" width="22.78" height="9.20" fill="#f99a1f"/>
<rect x="443.46" y="237.19" width="22.78" height="9.20" fill="#f99a1f"/>
<rect x="467.69" y="237.19" width="22.78" height="9.20" fill="#f99a1f"/>
<rect x="491.92" y="237.19" width="22.78" height="9.20" fill="#ed283f"/>
<rect x="516.14" y="237.19" width="22.78" height="9.20" fill="#ed283f"/>
<rect x="540.38" y="237.19" width="22.78" height="9.20" fill="#ed283f"/>
<rect x="564.61" y="237.19" width="22.78" height="9.20" fill="#ed283f"/>
<rect x="25.23" y="247.83" width="29.10" height="9.20" fill="#ffffff"/>
<rect x="55.77" y="247.83" width="22.78" height="9.20" fill="#8cc83c"/>
<rect x="80.00" y="247.83" width="22.78" height="9.20" fill="#f9ee2a"/>
<rect x="104.23" y="247.83" width="22.78" height="9.20" fill="#8cb8e8"/>
<rect x="128.47" y="247.83" width="22.78" height="9.20" fill="#8cb8e8"/>
<rect x="152.69" y="247.83" width="22.78" height="9.20" fill="#8cb8e8"/>
<rect x="176.92" y="247.83" width="22.78" height="9.20" fill="#8cb8e8"/>
<rect x="201.16" y="247.83" width="22.78" height="9.20" fill="#8cb8e8"/>
<rect x="225.39" y="247.83" width="22.78" height="9.20" fill="#f9ee2a"/>
<rect x="249.61" y="247.83" width="22.78" height="9.20" fill="#f9ee2a"/>
<rect x="273.85" y="247.83" width="22.78" height="9.20" fill="#f9ee2a"/>
<rect x="298.08" y="247.83" width="22.78" height="9.20" fill="#f9ee2a"/>
<rect x="322.31" y="247.83" width="22.78" height="9.20" fill="#f99a1f"/>
<rect x="346.54" y="247.83" width="22.78" height="9.20" fill="#f99a1f"/>
<rect x="370.77" y="247.83" width="22.78" height="9.20" fill="#f99a1f"/>
<rect x="395.00" y="247.83" width="22.78" height="9.20" fill="#f99a1f"/>
<rect x="419.23" y="247.83" width="22.78" height="9.20" fill="#f99a1f"/>
<rect x="443.46" y="247.83" width="22.78" height="9.20" fill="#f99a1f"/>
<rect x="467.69" y="247.83" width="22.78" height="9.20" fill="#f99a1f"/>
<rect x="491.92" y="247.83" width="22.78" height="9.20" fill="#ed283f"/>
<rect x="516.14" y="247.83" width="22.78" height="9.20" fill="#ed283f"/>
<rect x="540.38" y="247.83" width="22.78" height="9.20" fill="#ed283f"/>
<rect x="564.61" y="247.83" width="22.78" height="9.20" fill="#ed283f"/>
<rect x="25.23" y="258.48" width="29.10" height="9.20" fill="#ffffff"/>
<rect x="55.77" y="258.48" width="22.78" height="9.20" fill="#8cc83c"/>
<rect x="80.00" y="258.48" width="22.78" height="9.20" fill="#f9ee2a"/>
<rect x="104.23" y="258.48" width="22.78" height="9.20" fill="#f9ee2a"/>
<rect x="128.47" y="258.48" width="22.78" height="9.20" fill="#8cb8e8"/>
<rect x="152.69" y="258.48" width="22.78" height="9.20" fill="#8cb8e8"/>
<rect x="176.92" y="258.48" width="22.78" height="9.20" fill="#8cb8e8"/>
<rect x="201.16" y="258.48" width="22.78" height="9.20" fill="#8cb8e8"/>
<rect x="225.39" y="258.48" width="22.78" height="9.20" fill="#8cb8e8"/>
<rect x="249.61" y="258.48" width="22.78" height="9.20" fill="#f9ee2a"/>
<rect x="273.85" y="258.48" width="22.78" height="9.20" fill="#f9ee2a"/>
<rect x="298.08" y="258.48" width="22.78" height="9.20" fill="#f9ee2a"/>
<rect x="322.31" y="258.48" width="22.78" height="9.20" fill="#f9ee2a"/>
<rect x="346.54" y="258.48" width="22.78" height="9.20" fill="#f99a1f"/>
<rect x="370.77" y="258.48" width="22.78" height="9.20" fill="#f99a1f"/>
<rect x="395.00" y="258.48" width="22.78" height="9.20" fill="#f99a1f"/>
<rect x="419.23" y="258.48" width="22.78" height="9.20" fill="#f99a1f"/>
<rect x="443.46" y="258.48" width="22.78" height="9.20" fill="#f99a1f"/>
<rect x="467.69" y="258.48" width="22.78" height="9.20" fill="#f99a1f"/>
<rect x="491.92" y="258.48" width="22.78" height="9.20" fill="#f99a1f"/>
<rect x="516.14" y="258.48" width="22.78" height="9.20" fill="#ed283f"/>
<rect x="540.38" y="258.48" width="22.78" height="9.20" fill="#ed283f"/>
<rect x="564.61" y="258.48" width="22.78" height="9.20" fill="#ed283f"/>
<rect x="25.23" y="269.13" width="29.10" height="9.20" fill="#ffffff"/>
<rect x="55.77" y="269.13" width="22.78" height="9.20" fill="#8cc83c"/>
<rect x="80.00" y="269.13" width="22.78" height="9.20" fill="#8cc83c"/>
<rect x="104.23" y="269.13" width="22.78" height="9.20" fill="#f9ee2a"/>
<rect x="128.47" y="269.13" width="22.78" height="9.20" fill="#8cb8e8"/>
<rect x="152.69" y="269.13" width="22.78" height="9.20" fill="#8cb8e8"/>
<rect x="176.92" y="269.13" width="22.78" height="9.20" fill="#8cb8e8"/>
<rect x="201.16" y="269.13" width="22.78" height="9.20" fill="#8cb8e8"/>
<rect x="225.39" y="269.13" width="22.78" height="9.20" fill="#8cb8e8"/>
<rect x="249.61" y="269.13" width="22.78" height="9.20" fill="#f9ee2a"/>
<rect x="273.85" y="269.13" width="22.78" height="9.20" fill="#f9ee2a"/>
<rect x="298.08" y="269.13" width="22.78" height="9.20" fill="#f9ee2a"/>
<rect x="322.31" y="269.13" width="22.78" height="9.20" fill="#f9ee2a"/>
<rect x="346.54" y="269.13" width="22.78" height="9.20" fill="#f99a1f"/>
<rect x="370.77" y="269.13" width="22.78" height="9.20" fill="#f99a1f"/>
<rect x="395.00" y="269.13" width="22.78" height="9.20" fill="#f99a1f"/>
<rect x="419.23" y="269.13" width="22.78" height="9.20" fill="#f99a1f"/>
<rect x="443.46" y="269.13" width="22.78" height="9.20" fill="#f99a1f"/>
<rect x="467.69" y="269.13" width="22.78" height="9.20" fill="#f99a1f"/>
<rect x="491.92" y="269.13" width="22.78" height="9.20" fill="#f99a1f"/>
<rect x="516.14" y="269.13" width="22.78" height="9.20" fill="#f99a1f"/>
<rect x="540.38" y="269.13" width="22.78" height="9.20" fill="#ed283f"/>
<rect x="564.61" y="269.13" width="22.78" height="9.20" fill="#ed283f"/>
<rect x="25.23" y="279.78" width="29.10" height="9.20" fill="#ffffff"/>
<rect x="55.77" y="279.78" width="22.78" height="9.20" fill="#8cc83c"/>
<rect x="80.00" y="279.78" width="22.78" height="9.20" fill="#8cc83c"/>
<rect x="104.23" y="279.78" width="22.78" height="9.20" fill="#f9ee2a"/>
<rect x="128.47" y="279.78" width="22.78" height="9.20" fill="#f9ee2a"/>
<rect x="152.69" y="279.78" width="22.78" height="9.20" fill="#8cb8e8"/>
<rect x="176.92" y="279.78" width="22.78" height="9.20" fill="#8cb8e8"/>
<rect x="201.16" y="279.78" width="22.78" height="9.20" fill="#8cb8e8"/>
<rect x="225.39" y="279.78" width="22.78" height="9.20" fill="#8cb8e8"/>
<rect x="249.61" y="279.78" width="22.78" height="9.20" fill="#8cb8e8"/>
<rect x="273.85" y="279.78" width="22.78" height="9.20" fill="#f9ee2a"/>
<rect x="298.08" y="279.78" width="22.78" height="9.20" fill="#f9ee2a"/>
<rect x="322.31" y="279.78" width="22.78" height="9.20" fill="#f9ee2a"/>
<rect x="346.54" y="279.78" width="22.78" height="9.20" fill="#f9ee2a"/>
<rect x="370.77" y="279.78" width="22.78" height="9.20" fill="#f99a1f"/>
<rect x="395.00" y="279.78" width="22.78" height="9.20" fill="#f99a1f"/>
<rect x="419.23" y="279.78" width="22.78" height="9.20" fill="#f99a1f"/>
<rect x="443.46" y="279.78" width="22.78" height="9.20" fill="#f99a1f"/>
<rect x="467.69" y="279.78" width="22.78" height="9.20" fill="#f99a1f"/>
<rect x="491.92" y="279.78" width="22.78" height="9.20" fill="#f99a1f"/>
<rect x="516.14" y="279.78" width="22.78" height="9.20" fill="#f99a1f"/>
<rect x="540.38" y="279.78" width="22.78" height="9.20" fill="#f99a1f"/>
<rect x="564.61" y="279.78" width="22.78" height="9.20" fill="#ed283f"/>
<rect x="25.23" y="290.43" width="29.10" height="9.20" fill="#ffffff"/>
<rect x="55.77" y="290.43" width="22.78" height="9.20" fill="#8cc83c"/>
<rect x="80.00" y="290.43" width="22.78" height="9.20" fill="#8cc83c"/>
<rect x="104.23" y="290.43" width="22.78" height="9.20" fill="#f9ee2a"/>
<rect x="128.47" y="290.43" width="22.78" height="9.20" fill="#f9ee2a"/>
<rect x="152.69" y="290.43" width="22.78" height="9.20" fill="#8cb8e8"/>
<rect x="176.92" y="290.43" width="22.78" height="9.20" fill="#8cb8e8"/>
<rect x="201.16" y="290.43" width="22.78" height="9.20" fill="#8cb8e8"/>
<rect x="225.39" y="290.43" width="22.78" height="9.20" fill="#8cb8e8"/>
<rect x="249.61" y="290.43" width="22.78" height="9.20" fill="#8cb8e8"/>
<rect x="273.85" y="290.43" width="22.78" height="9.20" fill="#f9ee2a"/>
<rect x="298.08" y="290.43" width="22.78" height="9.20" fill="#f9ee2a"/>
<rect x="322.31" y="290.43" width="22.78" height="9.20" fill="#f9ee2a"/>
<rect x="346.54" y="290.43" width="22.78" height="9.20" fill="#f9ee2a"/>
<rect x="370.77" y="290.43" width="22.78" height="9.20" fill="#f9ee2a"/>
<rect x="395.00" y="290.43" width="22.78" height="9.20" fill="#f99a1f"/>
<rect x="419.23" y="290.43" width="22.78" height="9.20" fill="#f99a1f"/>
<rect x="443.46" y="290.43" width="22.78" height="9.20" fill="#f99a1f"/>
<rect x="467.69" y="290.43" width="22.78" height="9.20" fill="#f99a1f"/>
<rect x="491.92" y="290.43" width="22.78" height="9.20" fill="#f99a1f"/>
<rect x="516.14" y="290.43" width="22.78" height="9.20" fill="#f99a1f"/>
<rect x="540.38" y="290.43" width="22.78" height="9.20" fill="#f99a1f"/>
<rect x="564.61" y="290.43" width="22.78" height="9.20" fill="#f99a1f"/>
<rect x="25.23" y="301.07" width="29.10" height="9.20" fill="#ffffff"/>
<rect x="55.77" y="301.07" width="22.78" height="9.20" fill="#8cc83c"/>
<rect x="80.00" y="301.07" width="22.78" height="9.20" fill="#8cc83c"/>
<rect x="104.23" y="301.07" width="22.78" height="9.20" fill="#8cc83c"/>
<rect x="128.47" y="301.07" width="22.78" height="9.20" fill="#f9ee2a"/>
<rect x="152.69" y="301.07" width="22.78" height="9.20" fill="#8cb8e8"/>
<rect x="176.92" y="301.07" width="22.78" height="9.20" fill="#8cb8e8"/>
<rect x="201.16" y="301.07" width="22.78" height="9.20" fill="#8cb8e8"/>
<rect x="225.39" y="301.07" width="22.78" height="9.20" fill="#8cb8e8"/>
<rect x="249.61" y="301.07" width="22.78" height="9.20" fill="#8cb8e8"/>
<rect x="273.85" y="301.07" width="22.78" height="9.20" fill="#8cb8e8"/>
<rect x="298.08" y="301.07" width="22.78" height="9.20" fill="#f9ee2a"/>
<rect x="322.31" y="301.07" width="22.78" height="9.20" fill="#f9ee2a"/>
<rect x="346.54" y="301.07" width="22.78" height="9.20" fill="#f9ee2a"/>
<rect x="370.77" y="301.07" width="22.78" height="9.20" fill="#f9ee2a"/>
<rect x="395.00" y="301.07" width="22.78" height="9.20" fill="#f99a1f"/>
<rect x="419.23" y="301.07" width="22.78" height="9.20" fill="#f99a1f"/>
<rect x="443.46" y="301.07" width="22.78" height="9.20" fill="#f99a1f"/>
<rect x="467.69" y="301.07" width="22.78" height="9.20" fill="#f99a1f"/>
<rect x="491.92" y="301.07" width="22.78" height="9.20" fill="#f99a1f"/>
<rect x="516.14" y="301.07" width="22.78" height="9.20" fill="#f99a1f"/>
<rect x="540.38" y="301.07" width="22.78" height="9.20" fill="#f99a1f"/>
<rect x="564.61" y="301.07" width="22.78" height="9.20" fill="#f99a1f"/>
<rect x="25.23" y="311.72" width="29.10" height="9.20" fill="#ffffff"/>
<rect x="55.77" y="311.72" width="22.78" height="9.20" fill="#8cc83c"/>
<rect x="80.00" y="311.72" width="22.78" height="9.20" fill="#8cc83c"/>
<rect x="104.23" y="311.72" width="22.78" height="9.20" fill="#8cc83c"/>
<rect x="128.47" y="311.72" width="22.78" height="9.20" fill="#f9ee2a"/>
<rect x="152.69" y="311.72" width="22.78" height="9.20" fill="#f9ee2a"/>
<rect x="176.92" y="311.72" width="22.78" height="9.20" fill="#8cb8e8"/>
<rect x="201.16" y="311.72" width="22.78" height="9.20" fill="#8cb8e8"/>
<rect x="225.39" y="311.72" width="22.78" height="9.20" fill="#8cb8e8"/>
<rect x="249.61" y="311.72" width="22.78" height="9.20" fill="#8cb8e8"/>
<rect x="273.85" y="311.72" width="22.78" height="9.20" fill="#8cb8e8"/>
<rect x="298.08" y="311.72" width="22.78" height="9.20" fill="#8cb8e8"/>
<rect x="322.31" y="311.72" width="22.78" height="9.20" fill="#f9ee2a"/>
<rect x="346.54" y="311.72" width="22.78" height="9.20" fill="#f9ee2a"/>
<rect x="370.77" y="311.72" width="22.78" height="9.20" fill="#f9ee2a"/>
<rect x="395.00" y="311.72" width="22.78" height="9.20" fill="#f9ee2a"/>
<rect x="419.23" y="311.72" width="22.78" height="9.20" fill="#f99a1f"/>
<rect x="443.46" y="311.72" width="22.78" height="9.20" fill="#f99a1f"/>
<rect x="467.69" y="311.72" width="22.78" height="9.20" fill="#f99a1f"/>
<rect x="491.92" y="311.72" width="22.78" height="9.20" fill="#f99a1f"/>
<rect x="516.14" y="311.72" width="22.78" height="9.20" fill="#f99a1f"/>
<rect x="540.38" y="311.72" width="22.78" height="9.20" fill="#f99a1f"/>
<rect x="564.61" y="311.72" width="22.78" height="9.20" fill="#f99a1f"/>
<rect x="25.23" y="322.37" width="29.10" height="9.20" fill="#ffffff"/>
<rect x="55.77" y="322.37" width="22.78" height="9.20" fill="#8cc83c"/>
<rect x="80.00" y="322.37" width="22.78" height="9.20" fill="#8cc83c"/>
<rect x="104.23" y="322.37" width="22.78" height="9.20" fill="#8cc83c"/>
<rect x="128.47" y="322.37" width="22.78" height="9.20" fill="#f9ee2a"/>
<rect x="152.69" y="322.37" width="22.78" height="9.20" fill="#f9ee2a"/>
<rect x="176.92" y="322.37" width="22.78" height="9.20" fill="#8cb8e8"/>
<rect x="201.16" y="322.37" width="22.78" height="9.20" fill="#8cb8e8"/>
<rect x="225.39" y="322.37" width="22.78" height="9.20" fill="#8cb8e8"/>
<rect x="249.61" y="322.37" width="22.78" height="9.20" fill="#8cb8e8"/>
<rect x="273.85" y="322.37" width="22.78" height="9.20" fill="#8cb8e8"/>
<rect x="298.08" y="322.37" width="22.78" height="9.20" fill="#8cb8e8"/>
<rect x="322.31" y="322.37" width="22.78" height="9.20" fill="#f9ee2a"/>
<rect x="346.54" y="322.37" width="22.78" height="9.20" fill="#f9ee2a"/>
<rect x="370.77" y="322.37" width="22.78" height="9.20" fill="#f9ee2a"/>
<rect x="395.00" y="322.37" width="22.78" height="9.20" fill="#f9ee2a"/>
<rect x="419.23" y="322.37" width="22.78" height="9.20" fill="#f9ee2a"/>
<rect x="443.46" y="322.37" width="22.78" height="9.20" fill="#f99a1f"/>
<rect x="467.69" y="322.37" width="22.78" height="9.20" fill="#f99a1f"/>
<rect x="491.92" y="322.37" width="22.78" height="9.20" fill="#f99a1f"/>
<rect x="516.14" y="322.37" width="22.78" height="9.20" fill="#f99a1f"/>
<rect x="540.38" y="322.37" width="22.78" height="9.20" fill="#f99a1f"/>
<rect x="564.61" y="322.37" width="22.78" height="9.20" fill="#f99a1f"/>
<rect x="25.23" y="333.02" width="29.10" height="9.20" fill="#ffffff"/>
<rect x="55.77" y="333.02" width="22.78" height="9.20" fill="#8cc83c"/>
<rect x="80.00" y="333.02" width="22.78" height="9.20" fill="#8cc83c"/>
<rect x="104.23" y="333.02" width="22.78" height="9.20" fill="#8cc83c"/>
<rect x="128.47" y="333.02" width="22.78" height="9.20" fill="#8cc83c"/>
<rect x="152.69" y="333.02" width="22.78" height="9.20" fill="#f9ee2a"/>
<rect x="176.92" y="333.02" width="22.78" height="9.20" fill="#f9ee2a"/>
<rect x="201.16" y="333.02" width="22.78" height="9.20" fill="#8cb8e8"/>
<rect x="225.39" y="333.02" width="22.78" height="9.20" fill="#8cb8e8"/>
<rect x="249.61" y="333.02" width="22.78" height="9.20" fill="#8cb8e8"/>
<rect x="273.85" y="333.02" width="22.78" height="9.20" fill="#8cb8e8"/>
<rect x="298.08" y="333.02" width="22.78" height="9.20" fill="#8cb8e8"/>
<rect x="322.31" y="333.02" width="22.78" height="9.20" fill="#8cb8e8"/>
<rect x="346.54" y="333.02" width="22.78" height="9.20" fill="#f9ee2a"/>
<rect x="370.77" y="333.02" width="22.78" height="9.20" fill="#f9ee2a"/>
<rect x="395.00" y="333.02" width="22.78" height="9.20" fill="#f9ee2a"/>
<rect x="419.23" y="333.02" width="22.78" height="9.20" fill="#f9ee2a"/>
<rect x="443.46" y="333.02" width="22.78" height="9.20" fill="#f99a1f"/>
<rect x="467.69" y="333.02" width="22.78" height="9.20" fill="#f99a1f"/>
<rect x="491.92" y="333.02" width="22.78" height="9.20" fill="#f99a1f"/>
<rect x="516.14" y="333.02" width="22.78" height="9.20" fill="#f99a1f"/>
<rect x="540.38" y="333.02" width="22.78" height="9.20" fill="#f99a1f"/>
<rect x="564.61" y="333.02" width="22.78" height="9.20" fill="#f99a1f"/>
<rect x="25.23" y="343.67" width="29.10" height="9.20" fill="#ffffff"/>
<rect x="55.77" y="343.67" width="22.78" height="9.20" fill="#8cc83c"/>
<rect x="80.00" y="343.67" width="22.78" height="9.20" fill="#8cc83c"/>
<rect x="104.23" y="343.67" width="22.78" height="9.20" fill="#8cc83c"/>
<rect x="128.47" y="343.67" width="22.78" height="9.20" fill="#8cc83c"/>
<rect x="152.69" y="343.67" width="22.78" height="9.20" fill="#f9ee2a"/>
<rect x="176.92" y="343.67" width="22.78" height="9.20" fill="#f9ee2a"/>
<rect x="201.16" y="343.67" width="22.78" height="9.20" fill="#8cb8e8"/>
<rect x="225.39" y="343.67" width="22.78" height="9.20" fill="#8cb8e8"/>
<rect x="249.61" y="343.67" width="22.78" height="9.20" fill="#8cb8e8"/>
<rect x="273.85" y="343.67" width="22.78" height="9.20" fill="#8cb8e8"/>
<rect x="298.08" y="343.67" width="22.78" height="9.20" fill="#8cb8e8"/>
<rect x="322.31" y="343.67" width="22.78" height="9.20" fill="#8cb8e8"/>
<rect x="346.54" y="343.67" width="22.78" height="9.20" fill="#f9ee2a"/>
<rect x="370.77" y="343.67" width="22.78" height="9.20" fill="#f9ee2a"/>
<rect x="395.00" y="343.67" width="22.78" height="9.20" fill="#f9ee2a"/>
<rect x="419.23" y="343.67" width="22.78" height="9.20" fill="#f9ee2a"/>
<rect x="443.46" y="343.67" width="22.78" height="9.20" fill="#f9ee2a"/>
<rect x="467.69" y="343.67" width="22.78" height="9.20" fill="#f99a1f"/>
<rect x="491.92" y="343.67" width="22.78" height="9.20" fill="#f99a1f"/>
<rect x="516.14" y="343.67" width="22.78" height="9.20" fill="#f99a1f"/>
<rect x="540.38" y="343.67" width="22.78" height="9.20" fill="#f99a1f"/>
<rect x="564.61" y="343.67" width="22.78" height="9.20" fill="#f99a1f"/>
<text x="68.66" y="32.10" font-size="9.2" text-anchor="middle" fill="#000" stroke="#000" stroke-width="0.3" textLength="15.6" lengthAdjust="spacingAndGlyphs">120</text>
<text x="92.89" y="32.10" font-size="9.2" text-anchor="middle" fill="#000" stroke="#000" stroke-width="0.3" textLength="15.6" lengthAdjust="spacingAndGlyphs">130</text>
<text x="117.12" y="32.10" font-size="9.2" text-anchor="middle" fill="#000" stroke="#000" stroke-width="0.3" textLength="15.6" lengthAdjust="spacingAndGlyphs">140</text>
<text x="141.35" y="32.10" font-size="9.2" text-anchor="middle" fill="#000" stroke="#000" stroke-width="0.3" textLength="15.6" lengthAdjust="spacingAndGlyphs">150</text>
<text x="165.58" y="32.10" font-size="9.2" text-anchor="middle" fill="#000" stroke="#000" stroke-width="0.3" textLength="15.6" lengthAdjust="spacingAndGlyphs">160</text>
<text x="189.81" y="32.10" font-size="9.2" text-anchor="middle" fill="#000" stroke="#000" stroke-width="0.3" textLength="15.6" lengthAdjust="spacingAndGlyphs">170</text>
<text x="214.05" y="32.10" font-size="9.2" text-anchor="middle" fill="#000" stroke="#000" stroke-width="0.3" textLength="15.6" lengthAdjust="spacingAndGlyphs">180</text>
<text x="238.28" y="32.10" font-size="9.2" text-anchor="middle" fill="#000" stroke="#000" stroke-width="0.3" textLength="15.6" lengthAdjust="spacingAndGlyphs">190</text>
<text x="262.50" y="32.10" font-size="9.2" text-anchor="middle" fill="#000" stroke="#000" stroke-width="0.3" textLength="15.6" lengthAdjust="spacingAndGlyphs">200</text>
<text x="286.74" y="32.10" font-size="9.2" text-anchor="middle" fill="#000" stroke="#000" stroke-width="0.3" textLength="15.6" lengthAdjust="spacingAndGlyphs">210</text>
<text x="310.97" y="32.10" font-size="9.2" text-anchor="middle" fill="#000" stroke="#000" stroke-width="0.3" textLength="15.6" lengthAdjust="spacingAndGlyphs">220</text>
<text x="335.20" y="32.10" font-size="9.2" text-anchor="middle" fill="#000" stroke="#000" stroke-width="0.3" textLength="15.6" lengthAdjust="spacingAndGlyphs">230</text>
<text x="359.43" y="32.10" font-size="9.2" text-anchor="middle" fill="#000" stroke="#000" stroke-width="0.3" textLength="15.6" lengthAdjust="spacingAndGlyphs">240</text>
<text x="383.66" y="32.10" font-size="9.2" text-anchor="middle" fill="#000" stroke="#000" stroke-width="0.3" textLength="15.6" lengthAdjust="spacingAndGlyphs">250</text>
<text x="407.88" y="32.10" font-size="9.2" text-anchor="middle" fill="#000" stroke="#000" stroke-width="0.3" textLength="15.6" lengthAdjust="spacingAndGlyphs">260</text>
<text x="432.12" y="32.10" font-size="9.2" text-anchor="middle" fill="#000" stroke="#000" stroke-width="0.3" textLength="15.6" lengthAdjust="spacingAndGlyphs">270</text>
<text x="456.35" y="32.10" font-size="9.2" text-anchor="middle" fill="#000" stroke="#000" stroke-width="0.3" textLength="15.6" lengthAdjust="spacingAndGlyphs">280</text>
<text x="480.58" y="32.10" font-size="9.2" text-anchor="middle" fill="#000" stroke="#000" stroke-width="0.3" textLength="15.6" lengthAdjust="spacingAndGlyphs">290</text>
<text x="504.80" y="32.10" font-size="9.2" text-anchor="middle" fill="#000" stroke="#000" stroke-width="0.3" textLength="15.6" lengthAdjust="spacingAndGlyphs">300</text>
<text x="529.03" y="32.10" font-size="9.2" text-anchor="middle" fill="#000" stroke="#000" stroke-width="0.3" textLength="15.6" lengthAdjust="spacingAndGlyphs">310</text>
<text x="553.26" y="32.10" font-size="9.2" text-anchor="middle" fill="#000" stroke="#000" stroke-width="0.3" textLength="15.6" lengthAdjust="spacingAndGlyphs">320</text>
<text x="577.50" y="32.10" font-size="9.2" text-anchor="middle" fill="#000" stroke="#000" stroke-width="0.3" textLength="15.6" lengthAdjust="spacingAndGlyphs">330</text>
<text x="31.50" y="42.05" font-size="8.8" font-weight="bold" fill="#000">4&#8217;5&#8221;</text>
<text x="67.66" y="42.90" font-size="8.8" font-weight="bold" text-anchor="middle" fill="#000">30</text>
<text x="91.89" y="42.90" font-size="8.8" font-weight="bold" text-anchor="middle" fill="#000">33</text>
<text x="116.12" y="42.90" font-size="8.8" font-weight="bold" text-anchor="middle" fill="#000">35</text>
<text x="140.35" y="42.90" font-size="8.8" font-weight="bold" text-anchor="middle" fill="#000">38</text>
<text x="164.58" y="42.90" font-size="8.8" font-weight="bold" text-anchor="middle" fill="#000">40</text>
<text x="188.81" y="42.90" font-size="8.8" font-weight="bold" text-anchor="middle" fill="#000">43</text>
<text x="213.05" y="42.90" font-size="8.8" font-weight="bold" text-anchor="middle" fill="#000">45</text>
<text x="237.28" y="42.90" font-size="8.8" font-weight="bold" text-anchor="middle" fill="#000">48</text>
<text x="261.50" y="42.90" font-size="8.8" font-weight="bold" text-anchor="middle" fill="#000">50</text>
<text x="285.74" y="42.90" font-size="8.8" font-weight="bold" text-anchor="middle" fill="#000">53</text>
<text x="309.97" y="42.90" font-size="8.8" font-weight="bold" text-anchor="middle" fill="#000">55</text>
<text x="334.20" y="42.90" font-size="8.8" font-weight="bold" text-anchor="middle" fill="#000">58</text>
<text x="358.43" y="42.90" font-size="8.8" font-weight="bold" text-anchor="middle" fill="#000">60</text>
<text x="382.66" y="42.90" font-size="8.8" font-weight="bold" text-anchor="middle" fill="#000">63</text>
<text x="406.88" y="42.90" font-size="8.8" font-weight="bold" text-anchor="middle" fill="#000">65</text>
<text x="431.12" y="42.90" font-size="8.8" font-weight="bold" text-anchor="middle" fill="#000">68</text>
<text x="455.35" y="42.90" font-size="8.8" font-weight="bold" text-anchor="middle" fill="#000">70</text>
<text x="479.58" y="42.90" font-size="8.8" font-weight="bold" text-anchor="middle" fill="#000">73</text>
<text x="503.80" y="42.90" font-size="8.8" font-weight="bold" text-anchor="middle" fill="#000">75</text>
<text x="528.03" y="42.90" font-size="8.8" font-weight="bold" text-anchor="middle" fill="#000">78</text>
<text x="552.26" y="42.90" font-size="8.8" font-weight="bold" text-anchor="middle" fill="#000">80</text>
<text x="576.50" y="42.90" font-size="8.8" font-weight="bold" text-anchor="middle" fill="#000">83</text>
<text x="31.50" y="52.70" font-size="8.8" font-weight="bold" fill="#000">4&#8217;6&#8221;</text>
<text x="67.66" y="53.55" font-size="8.8" font-weight="bold" text-anchor="middle" fill="#000">29</text>
<text x="91.89" y="53.55" font-size="8.8" font-weight="bold" text-anchor="middle" fill="#000">31</text>
<text x="116.12" y="53.55" font-size="8.8" font-weight="bold" text-anchor="middle" fill="#000">34</text>
<text x="140.35" y="53.55" font-size="8.8" font-weight="bold" text-anchor="middle" fill="#000">36</text>
<text x="164.58" y="53.55" font-size="8.8" font-weight="bold" text-anchor="middle" fill="#000">39</text>
<text x="188.81" y="53.55" font-size="8.8" font-weight="bold" text-anchor="middle" fill="#000">41</text>
<text x="213.05" y="53.55" font-size="8.8" font-weight="bold" text-anchor="middle" fill="#000">43</text>
<text x="237.28" y="53.55" font-size="8.8" font-weight="bold" text-anchor="middle" fill="#000">46</text>
<text x="261.50" y="53.55" font-size="8.8" font-weight="bold" text-anchor="middle" fill="#000">48</text>
<text x="285.74" y="53.55" font-size="8.8" font-weight="bold" text-anchor="middle" fill="#000">51</text>
<text x="309.97" y="53.55" font-size="8.8" font-weight="bold" text-anchor="middle" fill="#000">53</text>
<text x="334.20" y="53.55" font-size="8.8" font-weight="bold" text-anchor="middle" fill="#000">56</text>
<text x="358.43" y="53.55" font-size="8.8" font-weight="bold" text-anchor="middle" fill="#000">58</text>
<text x="382.66" y="53.55" font-size="8.8" font-weight="bold" text-anchor="middle" fill="#000">60</text>
<text x="406.88" y="53.55" font-size="8.8" font-weight="bold" text-anchor="middle" fill="#000">63</text>
<text x="431.12" y="53.55" font-size="8.8" font-weight="bold" text-anchor="middle" fill="#000">65</text>
<text x="455.35" y="53.55" font-size="8.8" font-weight="bold" text-anchor="middle" fill="#000">68</text>
<text x="479.58" y="53.55" font-size="8.8" font-weight="bold" text-anchor="middle" fill="#000">70</text>
<text x="503.80" y="53.55" font-size="8.8" font-weight="bold" text-anchor="middle" fill="#000">72</text>
<text x="528.03" y="53.55" font-size="8.8" font-weight="bold" text-anchor="middle" fill="#000">75</text>
<text x="552.26" y="53.55" font-size="8.8" font-weight="bold" text-anchor="middle" fill="#000">77</text>
<text x="576.50" y="53.55" font-size="8.8" font-weight="bold" text-anchor="middle" fill="#000">80</text>
<text x="31.50" y="63.35" font-size="8.8" font-weight="bold" fill="#000">4&#8217;7&#8221;</text>
<text x="67.66" y="64.20" font-size="8.8" font-weight="bold" text-anchor="middle" fill="#000">28</text>
<text x="91.89" y="64.20" font-size="8.8" font-weight="bold" text-anchor="middle" fill="#000">30</text>
<text x="116.12" y="64.20" font-size="8.8" font-weight="bold" text-anchor="middle" fill="#000">33</text>
<text x="140.35" y="64.20" font-size="8.8" font-weight="bold" text-anchor="middle" fill="#000">35</text>
<text x="164.58" y="64.20" font-size="8.8" font-weight="bold" text-anchor="middle" fill="#000">37</text>
<text x="188.81" y="64.20" font-size="8.8" font-weight="bold" text-anchor="middle" fill="#000">40</text>
<text x="213.05" y="64.20" font-size="8.8" font-weight="bold" text-anchor="middle" fill="#000">42</text>
<text x="237.28" y="64.20" font-size="8.8" font-weight="bold" text-anchor="middle" fill="#000">44</text>
<text x="261.50" y="64.20" font-size="8.8" font-weight="bold" text-anchor="middle" fill="#000">47</text>
<text x="285.74" y="64.20" font-size="8.8" font-weight="bold" text-anchor="middle" fill="#000">49</text>
<text x="309.97" y="64.20" font-size="8.8" font-weight="bold" text-anchor="middle" fill="#000">51</text>
<text x="334.20" y="64.20" font-size="8.8" font-weight="bold" text-anchor="middle" fill="#000">54</text>
<text x="358.43" y="64.20" font-size="8.8" font-weight="bold" text-anchor="middle" fill="#000">56</text>
<text x="382.66" y="64.20" font-size="8.8" font-weight="bold" text-anchor="middle" fill="#000">58</text>
<text x="406.88" y="64.20" font-size="8.8" font-weight="bold" text-anchor="middle" fill="#000">61</text>
<text x="431.12" y="64.20" font-size="8.8" font-weight="bold" text-anchor="middle" fill="#000">63</text>
<text x="455.35" y="64.20" font-size="8.8" font-weight="bold" text-anchor="middle" fill="#000">65</text>
<text x="479.58" y="64.20" font-size="8.8" font-weight="bold" text-anchor="middle" fill="#000">68</text>
<text x="503.80" y="64.20" font-size="8.8" font-weight="bold" text-anchor="middle" fill="#000">70</text>
<text x="528.03" y="64.20" font-size="8.8" font-weight="bold" text-anchor="middle" fill="#000">72</text>
<text x="552.26" y="64.20" font-size="8.8" font-weight="bold" text-anchor="middle" fill="#000">75</text>
<text x="576.50" y="64.20" font-size="8.8" font-weight="bold" text-anchor="middle" fill="#000">77</text>
<text x="31.50" y="73.99" font-size="8.8" font-weight="bold" fill="#000">4&#8217;8&#8221;</text>
<text x="67.66" y="74.84" font-size="8.8" font-weight="bold" text-anchor="middle" fill="#000">27</text>
<text x="91.89" y="74.84" font-size="8.8" font-weight="bold" text-anchor="middle" fill="#000">29</text>
<text x="116.12" y="74.84" font-size="8.8" font-weight="bold" text-anchor="middle" fill="#000">31</text>
<text x="140.35" y="74.84" font-size="8.8" font-weight="bold" text-anchor="middle" fill="#000">34</text>
<text x="164.58" y="74.84" font-size="8.8" font-weight="bold" text-anchor="middle" fill="#000">36</text>
<text x="188.81" y="74.84" font-size="8.8" font-weight="bold" text-anchor="middle" fill="#000">38</text>
<text x="213.05" y="74.84" font-size="8.8" font-weight="bold" text-anchor="middle" fill="#000">40</text>
<text x="237.28" y="74.84" font-size="8.8" font-weight="bold" text-anchor="middle" fill="#000">43</text>
<text x="261.50" y="74.84" font-size="8.8" font-weight="bold" text-anchor="middle" fill="#000">45</text>
<text x="285.74" y="74.84" font-size="8.8" font-weight="bold" text-anchor="middle" fill="#000">47</text>
<text x="309.97" y="74.84" font-size="8.8" font-weight="bold" text-anchor="middle" fill="#000">49</text>
<text x="334.20" y="74.84" font-size="8.8" font-weight="bold" text-anchor="middle" fill="#000">52</text>
<text x="358.43" y="74.84" font-size="8.8" font-weight="bold" text-anchor="middle" fill="#000">54</text>
<text x="382.66" y="74.84" font-size="8.8" font-weight="bold" text-anchor="middle" fill="#000">56</text>
<text x="406.88" y="74.84" font-size="8.8" font-weight="bold" text-anchor="middle" fill="#000">58</text>
<text x="431.12" y="74.84" font-size="8.8" font-weight="bold" text-anchor="middle" fill="#000">61</text>
<text x="455.35" y="74.84" font-size="8.8" font-weight="bold" text-anchor="middle" fill="#000">63</text>
<text x="479.58" y="74.84" font-size="8.8" font-weight="bold" text-anchor="middle" fill="#000">65</text>
<text x="503.80" y="74.84" font-size="8.8" font-weight="bold" text-anchor="middle" fill="#000">67</text>
<text x="528.03" y="74.84" font-size="8.8" font-weight="bold" text-anchor="middle" fill="#000">70</text>
<text x="552.26" y="74.84" font-size="8.8" font-weight="bold" text-anchor="middle" fill="#000">72</text>
<text x="576.50" y="74.84" font-size="8.8" font-weight="bold" text-anchor="middle" fill="#000">74</text>
<text x="31.50" y="84.64" font-size="8.8" font-weight="bold" fill="#000">4&#8217;9&#8221;</text>
<text x="67.66" y="85.49" font-size="8.8" font-weight="bold" text-anchor="middle" fill="#000">26</text>
<text x="91.89" y="85.49" font-size="8.8" font-weight="bold" text-anchor="middle" fill="#000">28</text>
<text x="116.12" y="85.49" font-size="8.8" font-weight="bold" text-anchor="middle" fill="#000">30</text>
<text x="140.35" y="85.49" font-size="8.8" font-weight="bold" text-anchor="middle" fill="#000">33</text>
<text x="164.58" y="85.49" font-size="8.8" font-weight="bold" text-anchor="middle" fill="#000">35</text>
<text x="188.81" y="85.49" font-size="8.8" font-weight="bold" text-anchor="middle" fill="#000">37</text>
<text x="213.05" y="85.49" font-size="8.8" font-weight="bold" text-anchor="middle" fill="#000">39</text>
<text x="237.28" y="85.49" font-size="8.8" font-weight="bold" text-anchor="middle" fill="#000">41</text>
<text x="261.50" y="85.49" font-size="8.8" font-weight="bold" text-anchor="middle" fill="#000">43</text>
<text x="285.74" y="85.49" font-size="8.8" font-weight="bold" text-anchor="middle" fill="#000">46</text>
<text x="309.97" y="85.49" font-size="8.8" font-weight="bold" text-anchor="middle" fill="#000">48</text>
<text x="334.20" y="85.49" font-size="8.8" font-weight="bold" text-anchor="middle" fill="#000">50</text>
<text x="358.43" y="85.49" font-size="8.8" font-weight="bold" text-anchor="middle" fill="#000">52</text>
<text x="382.66" y="85.49" font-size="8.8" font-weight="bold" text-anchor="middle" fill="#000">54</text>
<text x="406.88" y="85.49" font-size="8.8" font-weight="bold" text-anchor="middle" fill="#000">56</text>
<text x="431.12" y="85.49" font-size="8.8" font-weight="bold" text-anchor="middle" fill="#000">59</text>
<text x="455.35" y="85.49" font-size="8.8" font-weight="bold" text-anchor="middle" fill="#000">61</text>
<text x="479.58" y="85.49" font-size="8.8" font-weight="bold" text-anchor="middle" fill="#000">63</text>
<text x="503.80" y="85.49" font-size="8.8" font-weight="bold" text-anchor="middle" fill="#000">65</text>
<text x="528.03" y="85.49" font-size="8.8" font-weight="bold" text-anchor="middle" fill="#000">67</text>
<text x="552.26" y="85.49" font-size="8.8" font-weight="bold" text-anchor="middle" fill="#000">69</text>
<text x="576.50" y="85.49" font-size="8.8" font-weight="bold" text-anchor="middle" fill="#000">72</text>
<text x="31.50" y="95.29" font-size="8.8" font-weight="bold" fill="#000">4&#8217;10&#8221;</text>
<text x="67.66" y="96.14" font-size="8.8" font-weight="bold" text-anchor="middle" fill="#000">25</text>
<text x="91.89" y="96.14" font-size="8.8" font-weight="bold" text-anchor="middle" fill="#000">27</text>
<text x="116.12" y="96.14" font-size="8.8" font-weight="bold" text-anchor="middle" fill="#000">29</text>
<text x="140.35" y="96.14" font-size="8.8" font-weight="bold" text-anchor="middle" fill="#000">31</text>
<text x="164.58" y="96.14" font-size="8.8" font-weight="bold" text-anchor="middle" fill="#000">34</text>
<text x="188.81" y="96.14" font-size="8.8" font-weight="bold" text-anchor="middle" fill="#000">36</text>
<text x="213.05" y="96.14" font-size="8.8" font-weight="bold" text-anchor="middle" fill="#000">38</text>
<text x="237.28" y="96.14" font-size="8.8" font-weight="bold" text-anchor="middle" fill="#000">40</text>
<text x="261.50" y="96.14" font-size="8.8" font-weight="bold" text-anchor="middle" fill="#000">42</text>
<text x="285.74" y="96.14" font-size="8.8" font-weight="bold" text-anchor="middle" fill="#000">44</text>
<text x="309.97" y="96.14" font-size="8.8" font-weight="bold" text-anchor="middle" fill="#000">46</text>
<text x="334.20" y="96.14" font-size="8.8" font-weight="bold" text-anchor="middle" fill="#000">48</text>
<text x="358.43" y="96.14" font-size="8.8" font-weight="bold" text-anchor="middle" fill="#000">50</text>
<text x="382.66" y="96.14" font-size="8.8" font-weight="bold" text-anchor="middle" fill="#000">52</text>
<text x="406.88" y="96.14" font-size="8.8" font-weight="bold" text-anchor="middle" fill="#000">54</text>
<text x="431.12" y="96.14" font-size="8.8" font-weight="bold" text-anchor="middle" fill="#000">57</text>
<text x="455.35" y="96.14" font-size="8.8" font-weight="bold" text-anchor="middle" fill="#000">59</text>
<text x="479.58" y="96.14" font-size="8.8" font-weight="bold" text-anchor="middle" fill="#000">61</text>
<text x="503.80" y="96.14" font-size="8.8" font-weight="bold" text-anchor="middle" fill="#000">63</text>
<text x="528.03" y="96.14" font-size="8.8" font-weight="bold" text-anchor="middle" fill="#000">65</text>
<text x="552.26" y="96.14" font-size="8.8" font-weight="bold" text-anchor="middle" fill="#000">67</text>
<text x="576.50" y="96.14" font-size="8.8" font-weight="bold" text-anchor="middle" fill="#000">69</text>
<text x="31.50" y="105.94" font-size="8.8" font-weight="bold" fill="#000">4&#8217;11&#8221;</text>
<text x="67.66" y="106.79" font-size="8.8" font-weight="bold" text-anchor="middle" fill="#000">24</text>
<text x="91.89" y="106.79" font-size="8.8" font-weight="bold" text-anchor="middle" fill="#000">26</text>
<text x="116.12" y="106.79" font-size="8.8" font-weight="bold" text-anchor="middle" fill="#000">28</text>
<text x="140.35" y="106.79" font-size="8.8" font-weight="bold" text-anchor="middle" fill="#000">30</text>
<text x="164.58" y="106.79" font-size="8.8" font-weight="bold" text-anchor="middle" fill="#000">32</text>
<text x="188.81" y="106.79" font-size="8.8" font-weight="bold" text-anchor="middle" fill="#000">33</text>
<text x="213.05" y="106.79" font-size="8.8" font-weight="bold" text-anchor="middle" fill="#000">36</text>
<text x="237.28" y="106.79" font-size="8.8" font-weight="bold" text-anchor="middle" fill="#000">38</text>
<text x="261.50" y="106.79" font-size="8.8" font-weight="bold" text-anchor="middle" fill="#000">40</text>
<text x="285.74" y="106.79" font-size="8.8" font-weight="bold" text-anchor="middle" fill="#000">43</text>
<text x="309.97" y="106.79" font-size="8.8" font-weight="bold" text-anchor="middle" fill="#000">45</text>
<text x="334.20" y="106.79" font-size="8.8" font-weight="bold" text-anchor="middle" fill="#000">47</text>
<text x="358.43" y="106.79" font-size="8.8" font-weight="bold" text-anchor="middle" fill="#000">49</text>
<text x="382.66" y="106.79" font-size="8.8" font-weight="bold" text-anchor="middle" fill="#000">51</text>
<text x="406.88" y="106.79" font-size="8.8" font-weight="bold" text-anchor="middle" fill="#000">53</text>
<text x="431.12" y="106.79" font-size="8.8" font-weight="bold" text-anchor="middle" fill="#000">55</text>
<text x="455.35" y="106.79" font-size="8.8" font-weight="bold" text-anchor="middle" fill="#000">57</text>
<text x="479.58" y="106.79" font-size="8.8" font-weight="bold" text-anchor="middle" fill="#000">59</text>
<text x="503.80" y="106.79" font-size="8.8" font-weight="bold" text-anchor="middle" fill="#000">61</text>
<text x="528.03" y="106.79" font-size="8.8" font-weight="bold" text-anchor="middle" fill="#000">63</text>
<text x="552.26" y="106.79" font-size="8.8" font-weight="bold" text-anchor="middle" fill="#000">65</text>
<text x="576.50" y="106.79" font-size="8.8" font-weight="bold" text-anchor="middle" fill="#000">67</text>
<text x="31.50" y="116.59" font-size="8.8" font-weight="bold" fill="#000">5&#8217;0&#8221;</text>
<text x="67.66" y="117.44" font-size="8.8" font-weight="bold" text-anchor="middle" fill="#000">23</text>
<text x="91.89" y="117.44" font-size="8.8" font-weight="bold" text-anchor="middle" fill="#000">25</text>
<text x="116.12" y="117.44" font-size="8.8" font-weight="bold" text-anchor="middle" fill="#000">27</text>
<text x="140.35" y="117.44" font-size="8.8" font-weight="bold" text-anchor="middle" fill="#000">29</text>
<text x="164.58" y="117.44" font-size="8.8" font-weight="bold" text-anchor="middle" fill="#000">31</text>
<text x="188.81" y="117.44" font-size="8.8" font-weight="bold" text-anchor="middle" fill="#000">32</text>
<text x="213.05" y="117.44" font-size="8.8" font-weight="bold" text-anchor="middle" fill="#000">35</text>
<text x="237.28" y="117.44" font-size="8.8" font-weight="bold" text-anchor="middle" fill="#000">37</text>
<text x="261.50" y="117.44" font-size="8.8" font-weight="bold" text-anchor="middle" fill="#000">39</text>
<text x="285.74" y="117.44" font-size="8.8" font-weight="bold" text-anchor="middle" fill="#000">41</text>
<text x="309.97" y="117.44" font-size="8.8" font-weight="bold" text-anchor="middle" fill="#000">43</text>
<text x="334.20" y="117.44" font-size="8.8" font-weight="bold" text-anchor="middle" fill="#000">45</text>
<text x="358.43" y="117.44" font-size="8.8" font-weight="bold" text-anchor="middle" fill="#000">47</text>
<text x="382.66" y="117.44" font-size="8.8" font-weight="bold" text-anchor="middle" fill="#000">49</text>
<text x="406.88" y="117.44" font-size="8.8" font-weight="bold" text-anchor="middle" fill="#000">51</text>
<text x="431.12" y="117.44" font-size="8.8" font-weight="bold" text-anchor="middle" fill="#000">53</text>
<text x="455.35" y="117.44" font-size="8.8" font-weight="bold" text-anchor="middle" fill="#000">55</text>
<text x="479.58" y="117.44" font-size="8.8" font-weight="bold" text-anchor="middle" fill="#000">57</text>
<text x="503.80" y="117.44" font-size="8.8" font-weight="bold" text-anchor="middle" fill="#000">59</text>
<text x="528.03" y="117.44" font-size="8.8" font-weight="bold" text-anchor="middle" fill="#000">61</text>
<text x="552.26" y="117.44" font-size="8.8" font-weight="bold" text-anchor="middle" fill="#000">63</text>
<text x="576.50" y="117.44" font-size="8.8" font-weight="bold" text-anchor="middle" fill="#000">65</text>
<text x="31.50" y="127.23" font-size="8.8" font-weight="bold" fill="#000">5&#8217;1&#8221;</text>
<text x="67.66" y="128.08" font-size="8.8" font-weight="bold" text-anchor="middle" fill="#000">23</text>
<text x="91.89" y="128.08" font-size="8.8" font-weight="bold" text-anchor="middle" fill="#000">25</text>
<text x="116.12" y="128.08" font-size="8.8" font-weight="bold" text-anchor="middle" fill="#000">26</text>
<text x="140.35" y="128.08" font-size="8.8" font-weight="bold" text-anchor="middle" fill="#000">28</text>
<text x="164.58" y="128.08" font-size="8.8" font-weight="bold" text-anchor="middle" fill="#000">30</text>
<text x="188.81" y="128.08" font-size="8.8" font-weight="bold" text-anchor="middle" fill="#000">32</text>
<text x="213.05" y="128.08" font-size="8.8" font-weight="bold" text-anchor="middle" fill="#000">34</text>
<text x="237.28" y="128.08" font-size="8.8" font-weight="bold" text-anchor="middle" fill="#000">36</text>
<text x="261.50" y="128.08" font-size="8.8" font-weight="bold" text-anchor="middle" fill="#000">38</text>
<text x="285.74" y="128.08" font-size="8.8" font-weight="bold" text-anchor="middle" fill="#000">40</text>
<text x="309.97" y="128.08" font-size="8.8" font-weight="bold" text-anchor="middle" fill="#000">42</text>
<text x="334.20" y="128.08" font-size="8.8" font-weight="bold" text-anchor="middle" fill="#000">44</text>
<text x="358.43" y="128.08" font-size="8.8" font-weight="bold" text-anchor="middle" fill="#000">45</text>
<text x="382.66" y="128.08" font-size="8.8" font-weight="bold" text-anchor="middle" fill="#000">47</text>
<text x="406.88" y="128.08" font-size="8.8" font-weight="bold" text-anchor="middle" fill="#000">49</text>
<text x="431.12" y="128.08" font-size="8.8" font-weight="bold" text-anchor="middle" fill="#000">51</text>
<text x="455.35" y="128.08" font-size="8.8" font-weight="bold" text-anchor="middle" fill="#000">53</text>
<text x="479.58" y="128.08" font-size="8.8" font-weight="bold" text-anchor="middle" fill="#000">55</text>
<text x="503.80" y="128.08" font-size="8.8" font-weight="bold" text-anchor="middle" fill="#000">57</text>
<text x="528.03" y="128.08" font-size="8.8" font-weight="bold" text-anchor="middle" fill="#000">59</text>
<text x="552.26" y="128.08" font-size="8.8" font-weight="bold" text-anchor="middle" fill="#000">61</text>
<text x="576.50" y="128.08" font-size="8.8" font-weight="bold" text-anchor="middle" fill="#000">62</text>
<text x="31.50" y="137.88" font-size="8.8" font-weight="bold" fill="#000">5&#8217;2&#8221;</text>
<text x="67.66" y="138.73" font-size="8.8" font-weight="bold" text-anchor="middle" fill="#000">22</text>
<text x="91.89" y="138.73" font-size="8.8" font-weight="bold" text-anchor="middle" fill="#000">24</text>
<text x="116.12" y="138.73" font-size="8.8" font-weight="bold" text-anchor="middle" fill="#000">25</text>
<text x="140.35" y="138.73" font-size="8.8" font-weight="bold" text-anchor="middle" fill="#000">27</text>
<text x="164.58" y="138.73" font-size="8.8" font-weight="bold" text-anchor="middle" fill="#000">29</text>
<text x="188.81" y="138.73" font-size="8.8" font-weight="bold" text-anchor="middle" fill="#000">31</text>
<text x="213.05" y="138.73" font-size="8.8" font-weight="bold" text-anchor="middle" fill="#000">33</text>
<text x="237.28" y="138.73" font-size="8.8" font-weight="bold" text-anchor="middle" fill="#000">35</text>
<text x="261.50" y="138.73" font-size="8.8" font-weight="bold" text-anchor="middle" fill="#000">37</text>
<text x="285.74" y="138.73" font-size="8.8" font-weight="bold" text-anchor="middle" fill="#000">38</text>
<text x="309.97" y="138.73" font-size="8.8" font-weight="bold" text-anchor="middle" fill="#000">40</text>
<text x="334.20" y="138.73" font-size="8.8" font-weight="bold" text-anchor="middle" fill="#000">42</text>
<text x="358.43" y="138.73" font-size="8.8" font-weight="bold" text-anchor="middle" fill="#000">44</text>
<text x="382.66" y="138.73" font-size="8.8" font-weight="bold" text-anchor="middle" fill="#000">46</text>
<text x="406.88" y="138.73" font-size="8.8" font-weight="bold" text-anchor="middle" fill="#000">48</text>
<text x="431.12" y="138.73" font-size="8.8" font-weight="bold" text-anchor="middle" fill="#000">49</text>
<text x="455.35" y="138.73" font-size="8.8" font-weight="bold" text-anchor="middle" fill="#000">51</text>
<text x="479.58" y="138.73" font-size="8.8" font-weight="bold" text-anchor="middle" fill="#000">53</text>
<text x="503.80" y="138.73" font-size="8.8" font-weight="bold" text-anchor="middle" fill="#000">55</text>
<text x="528.03" y="138.73" font-size="8.8" font-weight="bold" text-anchor="middle" fill="#000">57</text>
<text x="552.26" y="138.73" font-size="8.8" font-weight="bold" text-anchor="middle" fill="#000">59</text>
<text x="576.50" y="138.73" font-size="8.8" font-weight="bold" text-anchor="middle" fill="#000">60</text>
<text x="31.50" y="148.53" font-size="8.8" font-weight="bold" fill="#000">5&#8217;3&#8221;</text>
<text x="67.66" y="149.38" font-size="8.8" font-weight="bold" text-anchor="middle" fill="#000">21</text>
<text x="91.89" y="149.38" font-size="8.8" font-weight="bold" text-anchor="middle" fill="#000">23</text>
<text x="116.12" y="149.38" font-size="8.8" font-weight="bold" text-anchor="middle" fill="#000">25</text>
<text x="140.35" y="149.38" font-size="8.8" font-weight="bold" text-anchor="middle" fill="#000">27</text>
<text x="164.58" y="149.38" font-size="8.8" font-weight="bold" text-anchor="middle" fill="#000">28</text>
<text x="188.81" y="149.38" font-size="8.8" font-weight="bold" text-anchor="middle" fill="#000">30</text>
<text x="213.05" y="149.38" font-size="8.8" font-weight="bold" text-anchor="middle" fill="#000">32</text>
<text x="237.28" y="149.38" font-size="8.8" font-weight="bold" text-anchor="middle" fill="#000">34</text>
<text x="261.50" y="149.38" font-size="8.8" font-weight="bold" text-anchor="middle" fill="#000">36</text>
<text x="285.74" y="149.38" font-size="8.8" font-weight="bold" text-anchor="middle" fill="#000">37</text>
<text x="309.97" y="149.38" font-size="8.8" font-weight="bold" text-anchor="middle" fill="#000">39</text>
<text x="334.20" y="149.38" font-size="8.8" font-weight="bold" text-anchor="middle" fill="#000">41</text>
<text x="358.43" y="149.38" font-size="8.8" font-weight="bold" text-anchor="middle" fill="#000">43</text>
<text x="382.66" y="149.38" font-size="8.8" font-weight="bold" text-anchor="middle" fill="#000">44</text>
<text x="406.88" y="149.38" font-size="8.8" font-weight="bold" text-anchor="middle" fill="#000">46</text>
<text x="431.12" y="149.38" font-size="8.8" font-weight="bold" text-anchor="middle" fill="#000">48</text>
<text x="455.35" y="149.38" font-size="8.8" font-weight="bold" text-anchor="middle" fill="#000">50</text>
<text x="479.58" y="149.38" font-size="8.8" font-weight="bold" text-anchor="middle" fill="#000">51</text>
<text x="503.80" y="149.38" font-size="8.8" font-weight="bold" text-anchor="middle" fill="#000">53</text>
<text x="528.03" y="149.38" font-size="8.8" font-weight="bold" text-anchor="middle" fill="#000">55</text>
<text x="552.26" y="149.38" font-size="8.8" font-weight="bold" text-anchor="middle" fill="#000">57</text>
<text x="576.50" y="149.38" font-size="8.8" font-weight="bold" text-anchor="middle" fill="#000">59</text>
<text x="31.50" y="159.18" font-size="8.8" font-weight="bold" fill="#000">5&#8217;4&#8221;</text>
<text x="67.66" y="160.03" font-size="8.8" font-weight="bold" text-anchor="middle" fill="#000">21</text>
<text x="91.89" y="160.03" font-size="8.8" font-weight="bold" text-anchor="middle" fill="#000">22</text>
<text x="116.12" y="160.03" font-size="8.8" font-weight="bold" text-anchor="middle" fill="#000">24</text>
<text x="140.35" y="160.03" font-size="8.8" font-weight="bold" text-anchor="middle" fill="#000">26</text>
<text x="164.58" y="160.03" font-size="8.8" font-weight="bold" text-anchor="middle" fill="#000">28</text>
<text x="188.81" y="160.03" font-size="8.8" font-weight="bold" text-anchor="middle" fill="#000">29</text>
<text x="213.05" y="160.03" font-size="8.8" font-weight="bold" text-anchor="middle" fill="#000">31</text>
<text x="237.28" y="160.03" font-size="8.8" font-weight="bold" text-anchor="middle" fill="#000">33</text>
<text x="261.50" y="160.03" font-size="8.8" font-weight="bold" text-anchor="middle" fill="#000">34</text>
<text x="285.74" y="160.03" font-size="8.8" font-weight="bold" text-anchor="middle" fill="#000">36</text>
<text x="309.97" y="160.03" font-size="8.8" font-weight="bold" text-anchor="middle" fill="#000">38</text>
<text x="334.20" y="160.03" font-size="8.8" font-weight="bold" text-anchor="middle" fill="#000">40</text>
<text x="358.43" y="160.03" font-size="8.8" font-weight="bold" text-anchor="middle" fill="#000">41</text>
<text x="382.66" y="160.03" font-size="8.8" font-weight="bold" text-anchor="middle" fill="#000">43</text>
<text x="406.88" y="160.03" font-size="8.8" font-weight="bold" text-anchor="middle" fill="#000">45</text>
<text x="431.12" y="160.03" font-size="8.8" font-weight="bold" text-anchor="middle" fill="#000">46</text>
<text x="455.35" y="160.03" font-size="8.8" font-weight="bold" text-anchor="middle" fill="#000">48</text>
<text x="479.58" y="160.03" font-size="8.8" font-weight="bold" text-anchor="middle" fill="#000">50</text>
<text x="503.80" y="160.03" font-size="8.8" font-weight="bold" text-anchor="middle" fill="#000">52</text>
<text x="528.03" y="160.03" font-size="8.8" font-weight="bold" text-anchor="middle" fill="#000">53</text>
<text x="552.26" y="160.03" font-size="8.8" font-weight="bold" text-anchor="middle" fill="#000">55</text>
<text x="576.50" y="160.03" font-size="8.8" font-weight="bold" text-anchor="middle" fill="#000">57</text>
<text x="31.50" y="169.83" font-size="8.8" font-weight="bold" fill="#000">5&#8217;5&#8221;</text>
<text x="67.66" y="170.68" font-size="8.8" font-weight="bold" text-anchor="middle" fill="#000">20</text>
<text x="91.89" y="170.68" font-size="8.8" font-weight="bold" text-anchor="middle" fill="#000">22</text>
<text x="116.12" y="170.68" font-size="8.8" font-weight="bold" text-anchor="middle" fill="#000">23</text>
<text x="140.35" y="170.68" font-size="8.8" font-weight="bold" text-anchor="middle" fill="#000">25</text>
<text x="164.58" y="170.68" font-size="8.8" font-weight="bold" text-anchor="middle" fill="#000">27</text>
<text x="188.81" y="170.68" font-size="8.8" font-weight="bold" text-anchor="middle" fill="#000">28</text>
<text x="213.05" y="170.68" font-size="8.8" font-weight="bold" text-anchor="middle" fill="#000">30</text>
<text x="237.28" y="170.68" font-size="8.8" font-weight="bold" text-anchor="middle" fill="#000">32</text>
<text x="261.50" y="170.68" font-size="8.8" font-weight="bold" text-anchor="middle" fill="#000">33</text>
<text x="285.74" y="170.68" font-size="8.8" font-weight="bold" text-anchor="middle" fill="#000">35</text>
<text x="309.97" y="170.68" font-size="8.8" font-weight="bold" text-anchor="middle" fill="#000">37</text>
<text x="334.20" y="170.68" font-size="8.8" font-weight="bold" text-anchor="middle" fill="#000">38</text>
<text x="358.43" y="170.68" font-size="8.8" font-weight="bold" text-anchor="middle" fill="#000">40</text>
<text x="382.66" y="170.68" font-size="8.8" font-weight="bold" text-anchor="middle" fill="#000">42</text>
<text x="406.88" y="170.68" font-size="8.8" font-weight="bold" text-anchor="middle" fill="#000">43</text>
<text x="431.12" y="170.68" font-size="8.8" font-weight="bold" text-anchor="middle" fill="#000">45</text>
<text x="455.35" y="170.68" font-size="8.8" font-weight="bold" text-anchor="middle" fill="#000">47</text>
<text x="479.58" y="170.68" font-size="8.8" font-weight="bold" text-anchor="middle" fill="#000">48</text>
<text x="503.80" y="170.68" font-size="8.8" font-weight="bold" text-anchor="middle" fill="#000">50</text>
<text x="528.03" y="170.68" font-size="8.8" font-weight="bold" text-anchor="middle" fill="#000">52</text>
<text x="552.26" y="170.68" font-size="8.8" font-weight="bold" text-anchor="middle" fill="#000">53</text>
<text x="576.50" y="170.68" font-size="8.8" font-weight="bold" text-anchor="middle" fill="#000">55</text>
<text x="31.50" y="180.47" font-size="8.8" font-weight="bold" fill="#000">5&#8217;6&#8221;</text>
<text x="67.66" y="181.32" font-size="8.8" font-weight="bold" text-anchor="middle" fill="#000">19</text>
<text x="91.89" y="181.32" font-size="8.8" font-weight="bold" text-anchor="middle" fill="#000">21</text>
<text x="116.12" y="181.32" font-size="8.8" font-weight="bold" text-anchor="middle" fill="#000">23</text>
<text x="140.35" y="181.32" font-size="8.8" font-weight="bold" text-anchor="middle" fill="#000">24</text>
<text x="164.58" y="181.32" font-size="8.8" font-weight="bold" text-anchor="middle" fill="#000">26</text>
<text x="188.81" y="181.32" font-size="8.8" font-weight="bold" text-anchor="middle" fill="#000">27</text>
<text x="213.05" y="181.32" font-size="8.8" font-weight="bold" text-anchor="middle" fill="#000">29</text>
<text x="237.28" y="181.32" font-size="8.8" font-weight="bold" text-anchor="middle" fill="#000">31</text>
<text x="261.50" y="181.32" font-size="8.8" font-weight="bold" text-anchor="middle" fill="#000">32</text>
<text x="285.74" y="181.32" font-size="8.8" font-weight="bold" text-anchor="middle" fill="#000">34</text>
<text x="309.97" y="181.32" font-size="8.8" font-weight="bold" text-anchor="middle" fill="#000">36</text>
<text x="334.20" y="181.32" font-size="8.8" font-weight="bold" text-anchor="middle" fill="#000">37</text>
<text x="358.43" y="181.32" font-size="8.8" font-weight="bold" text-anchor="middle" fill="#000">39</text>
<text x="382.66" y="181.32" font-size="8.8" font-weight="bold" text-anchor="middle" fill="#000">40</text>
<text x="406.88" y="181.32" font-size="8.8" font-weight="bold" text-anchor="middle" fill="#000">42</text>
<text x="431.12" y="181.32" font-size="8.8" font-weight="bold" text-anchor="middle" fill="#000">44</text>
<text x="455.35" y="181.32" font-size="8.8" font-weight="bold" text-anchor="middle" fill="#000">45</text>
<text x="479.58" y="181.32" font-size="8.8" font-weight="bold" text-anchor="middle" fill="#000">47</text>
<text x="503.80" y="181.32" font-size="8.8" font-weight="bold" text-anchor="middle" fill="#000">49</text>
<text x="528.03" y="181.32" font-size="8.8" font-weight="bold" text-anchor="middle" fill="#000">50</text>
<text x="552.26" y="181.32" font-size="8.8" font-weight="bold" text-anchor="middle" fill="#000">52</text>
<text x="576.50" y="181.32" font-size="8.8" font-weight="bold" text-anchor="middle" fill="#000">53</text>
<text x="31.50" y="191.12" font-size="8.8" font-weight="bold" fill="#000">5&#8217;7&#8221;</text>
<text x="67.66" y="191.97" font-size="8.8" font-weight="bold" text-anchor="middle" fill="#000">19</text>
<text x="91.89" y="191.97" font-size="8.8" font-weight="bold" text-anchor="middle" fill="#000">20</text>
<text x="116.12" y="191.97" font-size="8.8" font-weight="bold" text-anchor="middle" fill="#000">22</text>
<text x="140.35" y="191.97" font-size="8.8" font-weight="bold" text-anchor="middle" fill="#000">24</text>
<text x="164.58" y="191.97" font-size="8.8" font-weight="bold" text-anchor="middle" fill="#000">25</text>
<text x="188.81" y="191.97" font-size="8.8" font-weight="bold" text-anchor="middle" fill="#000">27</text>
<text x="213.05" y="191.97" font-size="8.8" font-weight="bold" text-anchor="middle" fill="#000">28</text>
<text x="237.28" y="191.97" font-size="8.8" font-weight="bold" text-anchor="middle" fill="#000">30</text>
<text x="261.50" y="191.97" font-size="8.8" font-weight="bold" text-anchor="middle" fill="#000">31</text>
<text x="285.74" y="191.97" font-size="8.8" font-weight="bold" text-anchor="middle" fill="#000">33</text>
<text x="309.97" y="191.97" font-size="8.8" font-weight="bold" text-anchor="middle" fill="#000">35</text>
<text x="334.20" y="191.97" font-size="8.8" font-weight="bold" text-anchor="middle" fill="#000">36</text>
<text x="358.43" y="191.97" font-size="8.8" font-weight="bold" text-anchor="middle" fill="#000">38</text>
<text x="382.66" y="191.97" font-size="8.8" font-weight="bold" text-anchor="middle" fill="#000">39</text>
<text x="406.88" y="191.97" font-size="8.8" font-weight="bold" text-anchor="middle" fill="#000">41</text>
<text x="431.12" y="191.97" font-size="8.8" font-weight="bold" text-anchor="middle" fill="#000">42</text>
<text x="455.35" y="191.97" font-size="8.8" font-weight="bold" text-anchor="middle" fill="#000">44</text>
<text x="479.58" y="191.97" font-size="8.8" font-weight="bold" text-anchor="middle" fill="#000">46</text>
<text x="503.80" y="191.97" font-size="8.8" font-weight="bold" text-anchor="middle" fill="#000">47</text>
<text x="528.03" y="191.97" font-size="8.8" font-weight="bold" text-anchor="middle" fill="#000">49</text>
<text x="552.26" y="191.97" font-size="8.8" font-weight="bold" text-anchor="middle" fill="#000">50</text>
<text x="576.50" y="191.97" font-size="8.8" font-weight="bold" text-anchor="middle" fill="#000">52</text>
<text x="31.50" y="201.77" font-size="8.8" font-weight="bold" fill="#000">5&#8217;8&#8221;</text>
<text x="67.66" y="202.62" font-size="8.8" font-weight="bold" text-anchor="middle" fill="#000">18</text>
<text x="91.89" y="202.62" font-size="8.8" font-weight="bold" text-anchor="middle" fill="#000">20</text>
<text x="116.12" y="202.62" font-size="8.8" font-weight="bold" text-anchor="middle" fill="#000">21</text>
<text x="140.35" y="202.62" font-size="8.8" font-weight="bold" text-anchor="middle" fill="#000">23</text>
<text x="164.58" y="202.62" font-size="8.8" font-weight="bold" text-anchor="middle" fill="#000">24</text>
<text x="188.81" y="202.62" font-size="8.8" font-weight="bold" text-anchor="middle" fill="#000">26</text>
<text x="213.05" y="202.62" font-size="8.8" font-weight="bold" text-anchor="middle" fill="#000">27</text>
<text x="237.28" y="202.62" font-size="8.8" font-weight="bold" text-anchor="middle" fill="#000">29</text>
<text x="261.50" y="202.62" font-size="8.8" font-weight="bold" text-anchor="middle" fill="#000">30</text>
<text x="285.74" y="202.62" font-size="8.8" font-weight="bold" text-anchor="middle" fill="#000">32</text>
<text x="309.97" y="202.62" font-size="8.8" font-weight="bold" text-anchor="middle" fill="#000">34</text>
<text x="334.20" y="202.62" font-size="8.8" font-weight="bold" text-anchor="middle" fill="#000">35</text>
<text x="358.43" y="202.62" font-size="8.8" font-weight="bold" text-anchor="middle" fill="#000">37</text>
<text x="382.66" y="202.62" font-size="8.8" font-weight="bold" text-anchor="middle" fill="#000">38</text>
<text x="406.88" y="202.62" font-size="8.8" font-weight="bold" text-anchor="middle" fill="#000">40</text>
<text x="431.12" y="202.62" font-size="8.8" font-weight="bold" text-anchor="middle" fill="#000">41</text>
<text x="455.35" y="202.62" font-size="8.8" font-weight="bold" text-anchor="middle" fill="#000">43</text>
<text x="479.58" y="202.62" font-size="8.8" font-weight="bold" text-anchor="middle" fill="#000">44</text>
<text x="503.80" y="202.62" font-size="8.8" font-weight="bold" text-anchor="middle" fill="#000">46</text>
<text x="528.03" y="202.62" font-size="8.8" font-weight="bold" text-anchor="middle" fill="#000">47</text>
<text x="552.26" y="202.62" font-size="8.8" font-weight="bold" text-anchor="middle" fill="#000">49</text>
<text x="576.50" y="202.62" font-size="8.8" font-weight="bold" text-anchor="middle" fill="#000">50</text>
<text x="31.50" y="212.42" font-size="8.8" font-weight="bold" fill="#000">5&#8217;9&#8221;</text>
<text x="67.66" y="213.27" font-size="8.8" font-weight="bold" text-anchor="middle" fill="#000">18</text>
<text x="91.89" y="213.27" font-size="8.8" font-weight="bold" text-anchor="middle" fill="#000">19</text>
<text x="116.12" y="213.27" font-size="8.8" font-weight="bold" text-anchor="middle" fill="#000">21</text>
<text x="140.35" y="213.27" font-size="8.8" font-weight="bold" text-anchor="middle" fill="#000">22</text>
<text x="164.58" y="213.27" font-size="8.8" font-weight="bold" text-anchor="middle" fill="#000">24</text>
<text x="188.81" y="213.27" font-size="8.8" font-weight="bold" text-anchor="middle" fill="#000">25</text>
<text x="213.05" y="213.27" font-size="8.8" font-weight="bold" text-anchor="middle" fill="#000">27</text>
<text x="237.28" y="213.27" font-size="8.8" font-weight="bold" text-anchor="middle" fill="#000">28</text>
<text x="261.50" y="213.27" font-size="8.8" font-weight="bold" text-anchor="middle" fill="#000">30</text>
<text x="285.74" y="213.27" font-size="8.8" font-weight="bold" text-anchor="middle" fill="#000">31</text>
<text x="309.97" y="213.27" font-size="8.8" font-weight="bold" text-anchor="middle" fill="#000">33</text>
<text x="334.20" y="213.27" font-size="8.8" font-weight="bold" text-anchor="middle" fill="#000">34</text>
<text x="358.43" y="213.27" font-size="8.8" font-weight="bold" text-anchor="middle" fill="#000">36</text>
<text x="382.66" y="213.27" font-size="8.8" font-weight="bold" text-anchor="middle" fill="#000">37</text>
<text x="406.88" y="213.27" font-size="8.8" font-weight="bold" text-anchor="middle" fill="#000">38</text>
<text x="431.12" y="213.27" font-size="8.8" font-weight="bold" text-anchor="middle" fill="#000">40</text>
<text x="455.35" y="213.27" font-size="8.8" font-weight="bold" text-anchor="middle" fill="#000">41</text>
<text x="479.58" y="213.27" font-size="8.8" font-weight="bold" text-anchor="middle" fill="#000">43</text>
<text x="503.80" y="213.27" font-size="8.8" font-weight="bold" text-anchor="middle" fill="#000">44</text>
<text x="528.03" y="213.27" font-size="8.8" font-weight="bold" text-anchor="middle" fill="#000">46</text>
<text x="552.26" y="213.27" font-size="8.8" font-weight="bold" text-anchor="middle" fill="#000">47</text>
<text x="576.50" y="213.27" font-size="8.8" font-weight="bold" text-anchor="middle" fill="#000">49</text>
<text x="31.50" y="223.07" font-size="8.8" font-weight="bold" fill="#000">5&#8217;10&#8221;</text>
<text x="67.66" y="223.92" font-size="8.8" font-weight="bold" text-anchor="middle" fill="#000">17</text>
<text x="91.89" y="223.92" font-size="8.8" font-weight="bold" text-anchor="middle" fill="#000">19</text>
<text x="116.12" y="223.92" font-size="8.8" font-weight="bold" text-anchor="middle" fill="#000">20</text>
<text x="140.35" y="223.92" font-size="8.8" font-weight="bold" text-anchor="middle" fill="#000">22</text>
<text x="164.58" y="223.92" font-size="8.8" font-weight="bold" text-anchor="middle" fill="#000">23</text>
<text x="188.81" y="223.92" font-size="8.8" font-weight="bold" text-anchor="middle" fill="#000">24</text>
<text x="213.05" y="223.92" font-size="8.8" font-weight="bold" text-anchor="middle" fill="#000">26</text>
<text x="237.28" y="223.92" font-size="8.8" font-weight="bold" text-anchor="middle" fill="#000">27</text>
<text x="261.50" y="223.92" font-size="8.8" font-weight="bold" text-anchor="middle" fill="#000">29</text>
<text x="285.74" y="223.92" font-size="8.8" font-weight="bold" text-anchor="middle" fill="#000">30</text>
<text x="309.97" y="223.92" font-size="8.8" font-weight="bold" text-anchor="middle" fill="#000">32</text>
<text x="334.20" y="223.92" font-size="8.8" font-weight="bold" text-anchor="middle" fill="#000">33</text>
<text x="358.43" y="223.92" font-size="8.8" font-weight="bold" text-anchor="middle" fill="#000">35</text>
<text x="382.66" y="223.92" font-size="8.8" font-weight="bold" text-anchor="middle" fill="#000">36</text>
<text x="406.88" y="223.92" font-size="8.8" font-weight="bold" text-anchor="middle" fill="#000">37</text>
<text x="431.12" y="223.92" font-size="8.8" font-weight="bold" text-anchor="middle" fill="#000">39</text>
<text x="455.35" y="223.92" font-size="8.8" font-weight="bold" text-anchor="middle" fill="#000">40</text>
<text x="479.58" y="223.92" font-size="8.8" font-weight="bold" text-anchor="middle" fill="#000">42</text>
<text x="503.80" y="223.92" font-size="8.8" font-weight="bold" text-anchor="middle" fill="#000">43</text>
<text x="528.03" y="223.92" font-size="8.8" font-weight="bold" text-anchor="middle" fill="#000">45</text>
<text x="552.26" y="223.92" font-size="8.8" font-weight="bold" text-anchor="middle" fill="#000">46</text>
<text x="576.50" y="223.92" font-size="8.8" font-weight="bold" text-anchor="middle" fill="#000">47</text>
<text x="31.50" y="233.71" font-size="8.8" font-weight="bold" fill="#000">5&#8217;11&#8221;</text>
<text x="67.66" y="234.56" font-size="8.8" font-weight="bold" text-anchor="middle" fill="#000">17</text>
<text x="91.89" y="234.56" font-size="8.8" font-weight="bold" text-anchor="middle" fill="#000">18</text>
<text x="116.12" y="234.56" font-size="8.8" font-weight="bold" text-anchor="middle" fill="#000">20</text>
<text x="140.35" y="234.56" font-size="8.8" font-weight="bold" text-anchor="middle" fill="#000">21</text>
<text x="164.58" y="234.56" font-size="8.8" font-weight="bold" text-anchor="middle" fill="#000">22</text>
<text x="188.81" y="234.56" font-size="8.8" font-weight="bold" text-anchor="middle" fill="#000">24</text>
<text x="213.05" y="234.56" font-size="8.8" font-weight="bold" text-anchor="middle" fill="#000">25</text>
<text x="237.28" y="234.56" font-size="8.8" font-weight="bold" text-anchor="middle" fill="#000">27</text>
<text x="261.50" y="234.56" font-size="8.8" font-weight="bold" text-anchor="middle" fill="#000">28</text>
<text x="285.74" y="234.56" font-size="8.8" font-weight="bold" text-anchor="middle" fill="#000">29</text>
<text x="309.97" y="234.56" font-size="8.8" font-weight="bold" text-anchor="middle" fill="#000">31</text>
<text x="334.20" y="234.56" font-size="8.8" font-weight="bold" text-anchor="middle" fill="#000">32</text>
<text x="358.43" y="234.56" font-size="8.8" font-weight="bold" text-anchor="middle" fill="#000">34</text>
<text x="382.66" y="234.56" font-size="8.8" font-weight="bold" text-anchor="middle" fill="#000">35</text>
<text x="406.88" y="234.56" font-size="8.8" font-weight="bold" text-anchor="middle" fill="#000">36</text>
<text x="431.12" y="234.56" font-size="8.8" font-weight="bold" text-anchor="middle" fill="#000">38</text>
<text x="455.35" y="234.56" font-size="8.8" font-weight="bold" text-anchor="middle" fill="#000">39</text>
<text x="479.58" y="234.56" font-size="8.8" font-weight="bold" text-anchor="middle" fill="#000">41</text>
<text x="503.80" y="234.56" font-size="8.8" font-weight="bold" text-anchor="middle" fill="#000">42</text>
<text x="528.03" y="234.56" font-size="8.8" font-weight="bold" text-anchor="middle" fill="#000">43</text>
<text x="552.26" y="234.56" font-size="8.8" font-weight="bold" text-anchor="middle" fill="#000">45</text>
<text x="576.50" y="234.56" font-size="8.8" font-weight="bold" text-anchor="middle" fill="#000">45</text>
<text x="31.50" y="244.36" font-size="8.8" font-weight="bold" fill="#000">6&#8217;0&#8221;</text>
<text x="67.66" y="245.21" font-size="8.8" font-weight="bold" text-anchor="middle" fill="#000">16</text>
<text x="91.89" y="245.21" font-size="8.8" font-weight="bold" text-anchor="middle" fill="#000">18</text>
<text x="116.12" y="245.21" font-size="8.8" font-weight="bold" text-anchor="middle" fill="#000">19</text>
<text x="140.35" y="245.21" font-size="8.8" font-weight="bold" text-anchor="middle" fill="#000">20</text>
<text x="164.58" y="245.21" font-size="8.8" font-weight="bold" text-anchor="middle" fill="#000">22</text>
<text x="188.81" y="245.21" font-size="8.8" font-weight="bold" text-anchor="middle" fill="#000">23</text>
<text x="213.05" y="245.21" font-size="8.8" font-weight="bold" text-anchor="middle" fill="#000">24</text>
<text x="237.28" y="245.21" font-size="8.8" font-weight="bold" text-anchor="middle" fill="#000">26</text>
<text x="261.50" y="245.21" font-size="8.8" font-weight="bold" text-anchor="middle" fill="#000">27</text>
<text x="285.74" y="245.21" font-size="8.8" font-weight="bold" text-anchor="middle" fill="#000">29</text>
<text x="309.97" y="245.21" font-size="8.8" font-weight="bold" text-anchor="middle" fill="#000">30</text>
<text x="334.20" y="245.21" font-size="8.8" font-weight="bold" text-anchor="middle" fill="#000">31</text>
<text x="358.43" y="245.21" font-size="8.8" font-weight="bold" text-anchor="middle" fill="#000">33</text>
<text x="382.66" y="245.21" font-size="8.8" font-weight="bold" text-anchor="middle" fill="#000">34</text>
<text x="406.88" y="245.21" font-size="8.8" font-weight="bold" text-anchor="middle" fill="#000">35</text>
<text x="431.12" y="245.21" font-size="8.8" font-weight="bold" text-anchor="middle" fill="#000">37</text>
<text x="455.35" y="245.21" font-size="8.8" font-weight="bold" text-anchor="middle" fill="#000">38</text>
<text x="479.58" y="245.21" font-size="8.8" font-weight="bold" text-anchor="middle" fill="#000">39</text>
<text x="503.80" y="245.21" font-size="8.8" font-weight="bold" text-anchor="middle" fill="#000">41</text>
<text x="528.03" y="245.21" font-size="8.8" font-weight="bold" text-anchor="middle" fill="#000">43</text>
<text x="552.26" y="245.21" font-size="8.8" font-weight="bold" text-anchor="middle" fill="#000">43</text>
<text x="576.50" y="245.21" font-size="8.8" font-weight="bold" text-anchor="middle" fill="#000">45</text>
<text x="31.50" y="255.01" font-size="8.8" font-weight="bold" fill="#000">6&#8217;1&#8221;</text>
<text x="67.66" y="255.86" font-size="8.8" font-weight="bold" text-anchor="middle" fill="#000">16</text>
<text x="91.89" y="255.86" font-size="8.8" font-weight="bold" text-anchor="middle" fill="#000">17</text>
<text x="116.12" y="255.86" font-size="8.8" font-weight="bold" text-anchor="middle" fill="#000">19</text>
<text x="140.35" y="255.86" font-size="8.8" font-weight="bold" text-anchor="middle" fill="#000">20</text>
<text x="164.58" y="255.86" font-size="8.8" font-weight="bold" text-anchor="middle" fill="#000">21</text>
<text x="188.81" y="255.86" font-size="8.8" font-weight="bold" text-anchor="middle" fill="#000">22</text>
<text x="213.05" y="255.86" font-size="8.8" font-weight="bold" text-anchor="middle" fill="#000">24</text>
<text x="237.28" y="255.86" font-size="8.8" font-weight="bold" text-anchor="middle" fill="#000">25</text>
<text x="261.50" y="255.86" font-size="8.8" font-weight="bold" text-anchor="middle" fill="#000">26</text>
<text x="285.74" y="255.86" font-size="8.8" font-weight="bold" text-anchor="middle" fill="#000">28</text>
<text x="309.97" y="255.86" font-size="8.8" font-weight="bold" text-anchor="middle" fill="#000">29</text>
<text x="334.20" y="255.86" font-size="8.8" font-weight="bold" text-anchor="middle" fill="#000">30</text>
<text x="358.43" y="255.86" font-size="8.8" font-weight="bold" text-anchor="middle" fill="#000">32</text>
<text x="382.66" y="255.86" font-size="8.8" font-weight="bold" text-anchor="middle" fill="#000">33</text>
<text x="406.88" y="255.86" font-size="8.8" font-weight="bold" text-anchor="middle" fill="#000">34</text>
<text x="431.12" y="255.86" font-size="8.8" font-weight="bold" text-anchor="middle" fill="#000">36</text>
<text x="455.35" y="255.86" font-size="8.8" font-weight="bold" text-anchor="middle" fill="#000">37</text>
<text x="479.58" y="255.86" font-size="8.8" font-weight="bold" text-anchor="middle" fill="#000">38</text>
<text x="503.80" y="255.86" font-size="8.8" font-weight="bold" text-anchor="middle" fill="#000">40</text>
<text x="528.03" y="255.86" font-size="8.8" font-weight="bold" text-anchor="middle" fill="#000">41</text>
<text x="552.26" y="255.86" font-size="8.8" font-weight="bold" text-anchor="middle" fill="#000">42</text>
<text x="576.50" y="255.86" font-size="8.8" font-weight="bold" text-anchor="middle" fill="#000">44</text>
<text x="31.50" y="265.66" font-size="8.8" font-weight="bold" fill="#000">6&#8217;2&#8221;</text>
<text x="67.66" y="266.51" font-size="8.8" font-weight="bold" text-anchor="middle" fill="#000">15</text>
<text x="91.89" y="266.51" font-size="8.8" font-weight="bold" text-anchor="middle" fill="#000">17</text>
<text x="116.12" y="266.51" font-size="8.8" font-weight="bold" text-anchor="middle" fill="#000">18</text>
<text x="140.35" y="266.51" font-size="8.8" font-weight="bold" text-anchor="middle" fill="#000">19</text>
<text x="164.58" y="266.51" font-size="8.8" font-weight="bold" text-anchor="middle" fill="#000">21</text>
<text x="188.81" y="266.51" font-size="8.8" font-weight="bold" text-anchor="middle" fill="#000">22</text>
<text x="213.05" y="266.51" font-size="8.8" font-weight="bold" text-anchor="middle" fill="#000">23</text>
<text x="237.28" y="266.51" font-size="8.8" font-weight="bold" text-anchor="middle" fill="#000">24</text>
<text x="261.50" y="266.51" font-size="8.8" font-weight="bold" text-anchor="middle" fill="#000">26</text>
<text x="285.74" y="266.51" font-size="8.8" font-weight="bold" text-anchor="middle" fill="#000">27</text>
<text x="309.97" y="266.51" font-size="8.8" font-weight="bold" text-anchor="middle" fill="#000">28</text>
<text x="334.20" y="266.51" font-size="8.8" font-weight="bold" text-anchor="middle" fill="#000">30</text>
<text x="358.43" y="266.51" font-size="8.8" font-weight="bold" text-anchor="middle" fill="#000">31</text>
<text x="382.66" y="266.51" font-size="8.8" font-weight="bold" text-anchor="middle" fill="#000">32</text>
<text x="406.88" y="266.51" font-size="8.8" font-weight="bold" text-anchor="middle" fill="#000">33</text>
<text x="431.12" y="266.51" font-size="8.8" font-weight="bold" text-anchor="middle" fill="#000">35</text>
<text x="455.35" y="266.51" font-size="8.8" font-weight="bold" text-anchor="middle" fill="#000">36</text>
<text x="479.58" y="266.51" font-size="8.8" font-weight="bold" text-anchor="middle" fill="#000">37</text>
<text x="503.80" y="266.51" font-size="8.8" font-weight="bold" text-anchor="middle" fill="#000">39</text>
<text x="528.03" y="266.51" font-size="8.8" font-weight="bold" text-anchor="middle" fill="#000">40</text>
<text x="552.26" y="266.51" font-size="8.8" font-weight="bold" text-anchor="middle" fill="#000">41</text>
<text x="576.50" y="266.51" font-size="8.8" font-weight="bold" text-anchor="middle" fill="#000">42</text>
<text x="31.50" y="276.31" font-size="8.8" font-weight="bold" fill="#000">6&#8217;3&#8221;</text>
<text x="67.66" y="277.16" font-size="8.8" font-weight="bold" text-anchor="middle" fill="#000">15</text>
<text x="91.89" y="277.16" font-size="8.8" font-weight="bold" text-anchor="middle" fill="#000">16</text>
<text x="116.12" y="277.16" font-size="8.8" font-weight="bold" text-anchor="middle" fill="#000">18</text>
<text x="140.35" y="277.16" font-size="8.8" font-weight="bold" text-anchor="middle" fill="#000">19</text>
<text x="164.58" y="277.16" font-size="8.8" font-weight="bold" text-anchor="middle" fill="#000">20</text>
<text x="188.81" y="277.16" font-size="8.8" font-weight="bold" text-anchor="middle" fill="#000">21</text>
<text x="213.05" y="277.16" font-size="8.8" font-weight="bold" text-anchor="middle" fill="#000">23</text>
<text x="237.28" y="277.16" font-size="8.8" font-weight="bold" text-anchor="middle" fill="#000">24</text>
<text x="261.50" y="277.16" font-size="8.8" font-weight="bold" text-anchor="middle" fill="#000">25</text>
<text x="285.74" y="277.16" font-size="8.8" font-weight="bold" text-anchor="middle" fill="#000">26</text>
<text x="309.97" y="277.16" font-size="8.8" font-weight="bold" text-anchor="middle" fill="#000">28</text>
<text x="334.20" y="277.16" font-size="8.8" font-weight="bold" text-anchor="middle" fill="#000">29</text>
<text x="358.43" y="277.16" font-size="8.8" font-weight="bold" text-anchor="middle" fill="#000">30</text>
<text x="382.66" y="277.16" font-size="8.8" font-weight="bold" text-anchor="middle" fill="#000">31</text>
<text x="406.88" y="277.16" font-size="8.8" font-weight="bold" text-anchor="middle" fill="#000">33</text>
<text x="431.12" y="277.16" font-size="8.8" font-weight="bold" text-anchor="middle" fill="#000">34</text>
<text x="455.35" y="277.16" font-size="8.8" font-weight="bold" text-anchor="middle" fill="#000">35</text>
<text x="479.58" y="277.16" font-size="8.8" font-weight="bold" text-anchor="middle" fill="#000">36</text>
<text x="503.80" y="277.16" font-size="8.8" font-weight="bold" text-anchor="middle" fill="#000">38</text>
<text x="528.03" y="277.16" font-size="8.8" font-weight="bold" text-anchor="middle" fill="#000">39</text>
<text x="552.26" y="277.16" font-size="8.8" font-weight="bold" text-anchor="middle" fill="#000">40</text>
<text x="576.50" y="277.16" font-size="8.8" font-weight="bold" text-anchor="middle" fill="#000">41</text>
<text x="31.50" y="286.95" font-size="8.8" font-weight="bold" fill="#000">6&#8217;4&#8221;</text>
<text x="67.66" y="287.80" font-size="8.8" font-weight="bold" text-anchor="middle" fill="#000">15</text>
<text x="91.89" y="287.80" font-size="8.8" font-weight="bold" text-anchor="middle" fill="#000">16</text>
<text x="116.12" y="287.80" font-size="8.8" font-weight="bold" text-anchor="middle" fill="#000">17</text>
<text x="140.35" y="287.80" font-size="8.8" font-weight="bold" text-anchor="middle" fill="#000">18</text>
<text x="164.58" y="287.80" font-size="8.8" font-weight="bold" text-anchor="middle" fill="#000">20</text>
<text x="188.81" y="287.80" font-size="8.8" font-weight="bold" text-anchor="middle" fill="#000">21</text>
<text x="213.05" y="287.80" font-size="8.8" font-weight="bold" text-anchor="middle" fill="#000">22</text>
<text x="237.28" y="287.80" font-size="8.8" font-weight="bold" text-anchor="middle" fill="#000">23</text>
<text x="261.50" y="287.80" font-size="8.8" font-weight="bold" text-anchor="middle" fill="#000">24</text>
<text x="285.74" y="287.80" font-size="8.8" font-weight="bold" text-anchor="middle" fill="#000">26</text>
<text x="309.97" y="287.80" font-size="8.8" font-weight="bold" text-anchor="middle" fill="#000">27</text>
<text x="334.20" y="287.80" font-size="8.8" font-weight="bold" text-anchor="middle" fill="#000">28</text>
<text x="358.43" y="287.80" font-size="8.8" font-weight="bold" text-anchor="middle" fill="#000">29</text>
<text x="382.66" y="287.80" font-size="8.8" font-weight="bold" text-anchor="middle" fill="#000">30</text>
<text x="406.88" y="287.80" font-size="8.8" font-weight="bold" text-anchor="middle" fill="#000">32</text>
<text x="431.12" y="287.80" font-size="8.8" font-weight="bold" text-anchor="middle" fill="#000">33</text>
<text x="455.35" y="287.80" font-size="8.8" font-weight="bold" text-anchor="middle" fill="#000">34</text>
<text x="479.58" y="287.80" font-size="8.8" font-weight="bold" text-anchor="middle" fill="#000">35</text>
<text x="503.80" y="287.80" font-size="8.8" font-weight="bold" text-anchor="middle" fill="#000">37</text>
<text x="528.03" y="287.80" font-size="8.8" font-weight="bold" text-anchor="middle" fill="#000">38</text>
<text x="552.26" y="287.80" font-size="8.8" font-weight="bold" text-anchor="middle" fill="#000">39</text>
<text x="576.50" y="287.80" font-size="8.8" font-weight="bold" text-anchor="middle" fill="#000">40</text>
<text x="31.50" y="297.60" font-size="8.8" font-weight="bold" fill="#000">6&#8217;5&#8221;</text>
<text x="67.66" y="298.45" font-size="8.8" font-weight="bold" text-anchor="middle" fill="#000">14</text>
<text x="91.89" y="298.45" font-size="8.8" font-weight="bold" text-anchor="middle" fill="#000">15</text>
<text x="116.12" y="298.45" font-size="8.8" font-weight="bold" text-anchor="middle" fill="#000">17</text>
<text x="140.35" y="298.45" font-size="8.8" font-weight="bold" text-anchor="middle" fill="#000">18</text>
<text x="164.58" y="298.45" font-size="8.8" font-weight="bold" text-anchor="middle" fill="#000">19</text>
<text x="188.81" y="298.45" font-size="8.8" font-weight="bold" text-anchor="middle" fill="#000">20</text>
<text x="213.05" y="298.45" font-size="8.8" font-weight="bold" text-anchor="middle" fill="#000">21</text>
<text x="237.28" y="298.45" font-size="8.8" font-weight="bold" text-anchor="middle" fill="#000">23</text>
<text x="261.50" y="298.45" font-size="8.8" font-weight="bold" text-anchor="middle" fill="#000">24</text>
<text x="285.74" y="298.45" font-size="8.8" font-weight="bold" text-anchor="middle" fill="#000">25</text>
<text x="309.97" y="298.45" font-size="8.8" font-weight="bold" text-anchor="middle" fill="#000">26</text>
<text x="334.20" y="298.45" font-size="8.8" font-weight="bold" text-anchor="middle" fill="#000">27</text>
<text x="358.43" y="298.45" font-size="8.8" font-weight="bold" text-anchor="middle" fill="#000">29</text>
<text x="382.66" y="298.45" font-size="8.8" font-weight="bold" text-anchor="middle" fill="#000">30</text>
<text x="406.88" y="298.45" font-size="8.8" font-weight="bold" text-anchor="middle" fill="#000">31</text>
<text x="431.12" y="298.45" font-size="8.8" font-weight="bold" text-anchor="middle" fill="#000">32</text>
<text x="455.35" y="298.45" font-size="8.8" font-weight="bold" text-anchor="middle" fill="#000">33</text>
<text x="479.58" y="298.45" font-size="8.8" font-weight="bold" text-anchor="middle" fill="#000">34</text>
<text x="503.80" y="298.45" font-size="8.8" font-weight="bold" text-anchor="middle" fill="#000">36</text>
<text x="528.03" y="298.45" font-size="8.8" font-weight="bold" text-anchor="middle" fill="#000">37</text>
<text x="552.26" y="298.45" font-size="8.8" font-weight="bold" text-anchor="middle" fill="#000">38</text>
<text x="576.50" y="298.45" font-size="8.8" font-weight="bold" text-anchor="middle" fill="#000">39</text>
<text x="31.50" y="308.25" font-size="8.8" font-weight="bold" fill="#000">6&#8217;6&#8221;</text>
<text x="67.66" y="309.10" font-size="8.8" font-weight="bold" text-anchor="middle" fill="#000">14</text>
<text x="91.89" y="309.10" font-size="8.8" font-weight="bold" text-anchor="middle" fill="#000">15</text>
<text x="116.12" y="309.10" font-size="8.8" font-weight="bold" text-anchor="middle" fill="#000">16</text>
<text x="140.35" y="309.10" font-size="8.8" font-weight="bold" text-anchor="middle" fill="#000">17</text>
<text x="164.58" y="309.10" font-size="8.8" font-weight="bold" text-anchor="middle" fill="#000">19</text>
<text x="188.81" y="309.10" font-size="8.8" font-weight="bold" text-anchor="middle" fill="#000">20</text>
<text x="213.05" y="309.10" font-size="8.8" font-weight="bold" text-anchor="middle" fill="#000">21</text>
<text x="237.28" y="309.10" font-size="8.8" font-weight="bold" text-anchor="middle" fill="#000">22</text>
<text x="261.50" y="309.10" font-size="8.8" font-weight="bold" text-anchor="middle" fill="#000">23</text>
<text x="285.74" y="309.10" font-size="8.8" font-weight="bold" text-anchor="middle" fill="#000">24</text>
<text x="309.97" y="309.10" font-size="8.8" font-weight="bold" text-anchor="middle" fill="#000">25</text>
<text x="334.20" y="309.10" font-size="8.8" font-weight="bold" text-anchor="middle" fill="#000">27</text>
<text x="358.43" y="309.10" font-size="8.8" font-weight="bold" text-anchor="middle" fill="#000">28</text>
<text x="382.66" y="309.10" font-size="8.8" font-weight="bold" text-anchor="middle" fill="#000">29</text>
<text x="406.88" y="309.10" font-size="8.8" font-weight="bold" text-anchor="middle" fill="#000">30</text>
<text x="431.12" y="309.10" font-size="8.8" font-weight="bold" text-anchor="middle" fill="#000">31</text>
<text x="455.35" y="309.10" font-size="8.8" font-weight="bold" text-anchor="middle" fill="#000">32</text>
<text x="479.58" y="309.10" font-size="8.8" font-weight="bold" text-anchor="middle" fill="#000">34</text>
<text x="503.80" y="309.10" font-size="8.8" font-weight="bold" text-anchor="middle" fill="#000">35</text>
<text x="528.03" y="309.10" font-size="8.8" font-weight="bold" text-anchor="middle" fill="#000">36</text>
<text x="552.26" y="309.10" font-size="8.8" font-weight="bold" text-anchor="middle" fill="#000">37</text>
<text x="576.50" y="309.10" font-size="8.8" font-weight="bold" text-anchor="middle" fill="#000">38</text>
<text x="31.50" y="318.90" font-size="8.8" font-weight="bold" fill="#000">6&#8217;7&#8221;</text>
<text x="67.66" y="319.75" font-size="8.8" font-weight="bold" text-anchor="middle" fill="#000">14</text>
<text x="91.89" y="319.75" font-size="8.8" font-weight="bold" text-anchor="middle" fill="#000">15</text>
<text x="116.12" y="319.75" font-size="8.8" font-weight="bold" text-anchor="middle" fill="#000">16</text>
<text x="140.35" y="319.75" font-size="8.8" font-weight="bold" text-anchor="middle" fill="#000">17</text>
<text x="164.58" y="319.75" font-size="8.8" font-weight="bold" text-anchor="middle" fill="#000">18</text>
<text x="188.81" y="319.75" font-size="8.8" font-weight="bold" text-anchor="middle" fill="#000">19</text>
<text x="213.05" y="319.75" font-size="8.8" font-weight="bold" text-anchor="middle" fill="#000">20</text>
<text x="237.28" y="319.75" font-size="8.8" font-weight="bold" text-anchor="middle" fill="#000">21</text>
<text x="261.50" y="319.75" font-size="8.8" font-weight="bold" text-anchor="middle" fill="#000">23</text>
<text x="285.74" y="319.75" font-size="8.8" font-weight="bold" text-anchor="middle" fill="#000">24</text>
<text x="309.97" y="319.75" font-size="8.8" font-weight="bold" text-anchor="middle" fill="#000">25</text>
<text x="334.20" y="319.75" font-size="8.8" font-weight="bold" text-anchor="middle" fill="#000">26</text>
<text x="358.43" y="319.75" font-size="8.8" font-weight="bold" text-anchor="middle" fill="#000">27</text>
<text x="382.66" y="319.75" font-size="8.8" font-weight="bold" text-anchor="middle" fill="#000">28</text>
<text x="406.88" y="319.75" font-size="8.8" font-weight="bold" text-anchor="middle" fill="#000">29</text>
<text x="431.12" y="319.75" font-size="8.8" font-weight="bold" text-anchor="middle" fill="#000">30</text>
<text x="455.35" y="319.75" font-size="8.8" font-weight="bold" text-anchor="middle" fill="#000">32</text>
<text x="479.58" y="319.75" font-size="8.8" font-weight="bold" text-anchor="middle" fill="#000">33</text>
<text x="503.80" y="319.75" font-size="8.8" font-weight="bold" text-anchor="middle" fill="#000">34</text>
<text x="528.03" y="319.75" font-size="8.8" font-weight="bold" text-anchor="middle" fill="#000">35</text>
<text x="552.26" y="319.75" font-size="8.8" font-weight="bold" text-anchor="middle" fill="#000">36</text>
<text x="576.50" y="319.75" font-size="8.8" font-weight="bold" text-anchor="middle" fill="#000">37</text>
<text x="31.50" y="329.55" font-size="8.8" font-weight="bold" fill="#000">6&#8217;8&#8221;</text>
<text x="67.66" y="330.40" font-size="8.8" font-weight="bold" text-anchor="middle" fill="#000">13</text>
<text x="91.89" y="330.40" font-size="8.8" font-weight="bold" text-anchor="middle" fill="#000">14</text>
<text x="116.12" y="330.40" font-size="8.8" font-weight="bold" text-anchor="middle" fill="#000">15</text>
<text x="140.35" y="330.40" font-size="8.8" font-weight="bold" text-anchor="middle" fill="#000">17</text>
<text x="164.58" y="330.40" font-size="8.8" font-weight="bold" text-anchor="middle" fill="#000">18</text>
<text x="188.81" y="330.40" font-size="8.8" font-weight="bold" text-anchor="middle" fill="#000">19</text>
<text x="213.05" y="330.40" font-size="8.8" font-weight="bold" text-anchor="middle" fill="#000">20</text>
<text x="237.28" y="330.40" font-size="8.8" font-weight="bold" text-anchor="middle" fill="#000">21</text>
<text x="261.50" y="330.40" font-size="8.8" font-weight="bold" text-anchor="middle" fill="#000">22</text>
<text x="285.74" y="330.40" font-size="8.8" font-weight="bold" text-anchor="middle" fill="#000">23</text>
<text x="309.97" y="330.40" font-size="8.8" font-weight="bold" text-anchor="middle" fill="#000">24</text>
<text x="334.20" y="330.40" font-size="8.8" font-weight="bold" text-anchor="middle" fill="#000">25</text>
<text x="358.43" y="330.40" font-size="8.8" font-weight="bold" text-anchor="middle" fill="#000">26</text>
<text x="382.66" y="330.40" font-size="8.8" font-weight="bold" text-anchor="middle" fill="#000">28</text>
<text x="406.88" y="330.40" font-size="8.8" font-weight="bold" text-anchor="middle" fill="#000">29</text>
<text x="431.12" y="330.40" font-size="8.8" font-weight="bold" text-anchor="middle" fill="#000">30</text>
<text x="455.35" y="330.40" font-size="8.8" font-weight="bold" text-anchor="middle" fill="#000">31</text>
<text x="479.58" y="330.40" font-size="8.8" font-weight="bold" text-anchor="middle" fill="#000">32</text>
<text x="503.80" y="330.40" font-size="8.8" font-weight="bold" text-anchor="middle" fill="#000">33</text>
<text x="528.03" y="330.40" font-size="8.8" font-weight="bold" text-anchor="middle" fill="#000">34</text>
<text x="552.26" y="330.40" font-size="8.8" font-weight="bold" text-anchor="middle" fill="#000">35</text>
<text x="576.50" y="330.40" font-size="8.8" font-weight="bold" text-anchor="middle" fill="#000">36</text>
<text x="31.50" y="340.19" font-size="8.8" font-weight="bold" fill="#000">6&#8217;9&#8221;</text>
<text x="67.66" y="341.04" font-size="8.8" font-weight="bold" text-anchor="middle" fill="#000">13</text>
<text x="91.89" y="341.04" font-size="8.8" font-weight="bold" text-anchor="middle" fill="#000">14</text>
<text x="116.12" y="341.04" font-size="8.8" font-weight="bold" text-anchor="middle" fill="#000">15</text>
<text x="140.35" y="341.04" font-size="8.8" font-weight="bold" text-anchor="middle" fill="#000">16</text>
<text x="164.58" y="341.04" font-size="8.8" font-weight="bold" text-anchor="middle" fill="#000">17</text>
<text x="188.81" y="341.04" font-size="8.8" font-weight="bold" text-anchor="middle" fill="#000">18</text>
<text x="213.05" y="341.04" font-size="8.8" font-weight="bold" text-anchor="middle" fill="#000">19</text>
<text x="237.28" y="341.04" font-size="8.8" font-weight="bold" text-anchor="middle" fill="#000">20</text>
<text x="261.50" y="341.04" font-size="8.8" font-weight="bold" text-anchor="middle" fill="#000">21</text>
<text x="285.74" y="341.04" font-size="8.8" font-weight="bold" text-anchor="middle" fill="#000">23</text>
<text x="309.97" y="341.04" font-size="8.8" font-weight="bold" text-anchor="middle" fill="#000">24</text>
<text x="334.20" y="341.04" font-size="8.8" font-weight="bold" text-anchor="middle" fill="#000">25</text>
<text x="358.43" y="341.04" font-size="8.8" font-weight="bold" text-anchor="middle" fill="#000">26</text>
<text x="382.66" y="341.04" font-size="8.8" font-weight="bold" text-anchor="middle" fill="#000">27</text>
<text x="406.88" y="341.04" font-size="8.8" font-weight="bold" text-anchor="middle" fill="#000">28</text>
<text x="431.12" y="341.04" font-size="8.8" font-weight="bold" text-anchor="middle" fill="#000">29</text>
<text x="455.35" y="341.04" font-size="8.8" font-weight="bold" text-anchor="middle" fill="#000">30</text>
<text x="479.58" y="341.04" font-size="8.8" font-weight="bold" text-anchor="middle" fill="#000">31</text>
<text x="503.80" y="341.04" font-size="8.8" font-weight="bold" text-anchor="middle" fill="#000">32</text>
<text x="528.03" y="341.04" font-size="8.8" font-weight="bold" text-anchor="middle" fill="#000">33</text>
<text x="552.26" y="341.04" font-size="8.8" font-weight="bold" text-anchor="middle" fill="#000">34</text>
<text x="576.50" y="341.04" font-size="8.8" font-weight="bold" text-anchor="middle" fill="#000">35</text>
<text x="31.50" y="350.84" font-size="8.8" font-weight="bold" fill="#000">6&#8217;10&#8221;</text>
<text x="67.66" y="351.69" font-size="8.8" font-weight="bold" text-anchor="middle" fill="#000">13</text>
<text x="91.89" y="351.69" font-size="8.8" font-weight="bold" text-anchor="middle" fill="#000">14</text>
<text x="116.12" y="351.69" font-size="8.8" font-weight="bold" text-anchor="middle" fill="#000">15</text>
<text x="140.35" y="351.69" font-size="8.8" font-weight="bold" text-anchor="middle" fill="#000">16</text>
<text x="164.58" y="351.69" font-size="8.8" font-weight="bold" text-anchor="middle" fill="#000">17</text>
<text x="188.81" y="351.69" font-size="8.8" font-weight="bold" text-anchor="middle" fill="#000">18</text>
<text x="213.05" y="351.69" font-size="8.8" font-weight="bold" text-anchor="middle" fill="#000">19</text>
<text x="237.28" y="351.69" font-size="8.8" font-weight="bold" text-anchor="middle" fill="#000">20</text>
<text x="261.50" y="351.69" font-size="8.8" font-weight="bold" text-anchor="middle" fill="#000">21</text>
<text x="285.74" y="351.69" font-size="8.8" font-weight="bold" text-anchor="middle" fill="#000">22</text>
<text x="309.97" y="351.69" font-size="8.8" font-weight="bold" text-anchor="middle" fill="#000">23</text>
<text x="334.20" y="351.69" font-size="8.8" font-weight="bold" text-anchor="middle" fill="#000">24</text>
<text x="358.43" y="351.69" font-size="8.8" font-weight="bold" text-anchor="middle" fill="#000">25</text>
<text x="382.66" y="351.69" font-size="8.8" font-weight="bold" text-anchor="middle" fill="#000">26</text>
<text x="406.88" y="351.69" font-size="8.8" font-weight="bold" text-anchor="middle" fill="#000">27</text>
<text x="431.12" y="351.69" font-size="8.8" font-weight="bold" text-anchor="middle" fill="#000">28</text>
<text x="455.35" y="351.69" font-size="8.8" font-weight="bold" text-anchor="middle" fill="#000">29</text>
<text x="479.58" y="351.69" font-size="8.8" font-weight="bold" text-anchor="middle" fill="#000">30</text>
<text x="503.80" y="351.69" font-size="8.8" font-weight="bold" text-anchor="middle" fill="#000">31</text>
<text x="528.03" y="351.69" font-size="8.8" font-weight="bold" text-anchor="middle" fill="#000">32</text>
<text x="552.26" y="351.69" font-size="8.8" font-weight="bold" text-anchor="middle" fill="#000">34</text>
<text x="576.50" y="351.69" font-size="8.8" font-weight="bold" text-anchor="middle" fill="#000">35</text>
<text x="37.5" y="389.4" font-size="9.8" font-weight="bold" fill="#82cc46" stroke="#82cc46" stroke-width="0.45" textLength="147.6" lengthAdjust="spacingAndGlyphs">Severly Underweight: &lt; 17.5</text>
<text x="37.9" y="405.6" font-size="9.8" font-weight="bold" fill="#f2e93a" stroke="#f2e93a" stroke-width="0.45" textLength="130.0" lengthAdjust="spacingAndGlyphs">Underweight: 17.5 - 18.4</text>
<text x="202.5" y="389.3" font-size="9.8" font-weight="bold" fill="#98bff0" stroke="#98bff0" stroke-width="0.45" textLength="93.4" lengthAdjust="spacingAndGlyphs">Optimal: 18.5 - 25</text>
<text x="317.5" y="389.3" font-size="9.8" font-weight="bold" fill="#f2e93a" stroke="#f2e93a" stroke-width="0.45" textLength="113.6" lengthAdjust="spacingAndGlyphs">Overweight: 25.1 - 30</text>
<text x="460.8" y="389.3" font-size="9.8" font-weight="bold" fill="#f5a12a" stroke="#f5a12a" stroke-width="0.45" textLength="84.2" lengthAdjust="spacingAndGlyphs">Obese: 30.1 - 40</text>
<text x="460.8" y="404.3" font-size="9.8" font-weight="bold" fill="#e9294b" stroke="#e9294b" stroke-width="0.45" textLength="116.4" lengthAdjust="spacingAndGlyphs">Severely Obese: &gt; 40.1</text>
</g></svg></body></html>
